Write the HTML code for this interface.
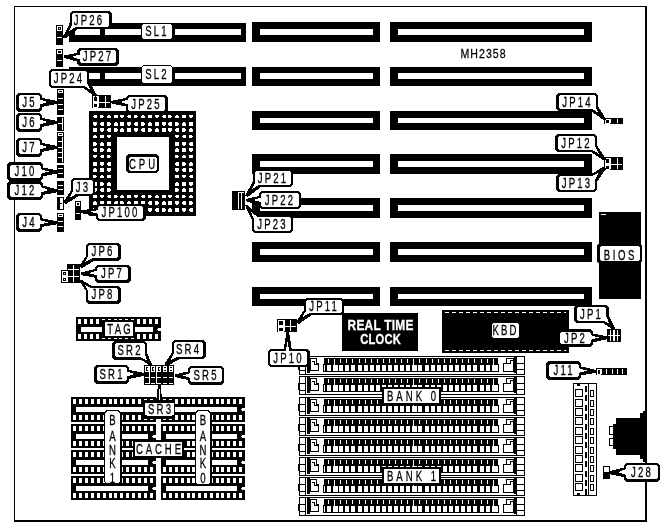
<!DOCTYPE html>
<html><head><meta charset="utf-8"><title>MH2358</title>
<style>
html,body{margin:0;padding:0;background:#fff;}
svg{display:block;}
text{font-family:"Liberation Sans",sans-serif;}
</style></head>
<body>
<svg style="will-change:transform" width="668" height="527" viewBox="0 0 668 527">
<rect x="0" y="0" width="668" height="527" fill="#fff"/>
<g shape-rendering="crispEdges">
<rect x="14" y="6" width="633" height="1" fill="#000"/>
<rect x="14" y="520" width="633" height="2" fill="#000"/>
<rect x="14" y="6" width="1" height="516" fill="#000"/>
<rect x="645" y="6" width="2" height="516" fill="#000"/>
<rect x="252" y="22" width="128" height="20" fill="#000"/>
<rect x="260" y="29" width="113" height="6" fill="#fff"/>
<rect x="390" y="22" width="202" height="20" fill="#000"/>
<rect x="398" y="29" width="186" height="6" fill="#fff"/>
<rect x="252" y="67" width="128" height="19" fill="#000"/>
<rect x="260" y="73" width="113" height="6" fill="#fff"/>
<rect x="390" y="67" width="202" height="19" fill="#000"/>
<rect x="398" y="73" width="186" height="6" fill="#fff"/>
<rect x="252" y="111" width="128" height="19" fill="#000"/>
<rect x="260" y="118" width="113" height="5" fill="#fff"/>
<rect x="390" y="111" width="202" height="19" fill="#000"/>
<rect x="398" y="118" width="186" height="5" fill="#fff"/>
<rect x="252" y="154" width="128" height="20" fill="#000"/>
<rect x="260" y="161" width="113" height="6" fill="#fff"/>
<rect x="390" y="154" width="202" height="20" fill="#000"/>
<rect x="398" y="161" width="186" height="6" fill="#fff"/>
<rect x="252" y="198" width="128" height="20" fill="#000"/>
<rect x="260" y="205" width="113" height="6" fill="#fff"/>
<rect x="390" y="198" width="202" height="20" fill="#000"/>
<rect x="398" y="205" width="186" height="6" fill="#fff"/>
<rect x="252" y="242" width="128" height="20" fill="#000"/>
<rect x="260" y="249" width="113" height="6" fill="#fff"/>
<rect x="390" y="242" width="202" height="20" fill="#000"/>
<rect x="398" y="249" width="186" height="6" fill="#fff"/>
<rect x="252" y="287" width="128" height="19" fill="#000"/>
<rect x="260" y="294" width="113" height="5" fill="#fff"/>
<rect x="390" y="287" width="202" height="19" fill="#000"/>
<rect x="398" y="294" width="186" height="5" fill="#fff"/>
<rect x="69" y="23" width="177" height="19" fill="#000"/>
<rect x="75" y="29" width="166" height="6" fill="#fff"/>
<rect x="100" y="29" width="5" height="6" fill="#000"/>
<rect x="141" y="29" width="34" height="6" fill="#000"/>
<rect x="69" y="67" width="177" height="19" fill="#000"/>
<rect x="75" y="73" width="166" height="6" fill="#fff"/>
<rect x="100" y="73" width="5" height="6" fill="#000"/>
<rect x="141" y="73" width="34" height="6" fill="#000"/>
<rect x="89" y="111" width="107" height="105" fill="#000"/>
<rect x="117" y="137" width="52" height="53" fill="#fff"/>
<rect x="93" y="115" width="4" height="3" fill="#fff"/>
<rect x="93" y="115" width="1" height="1" fill="#000"/>
<rect x="93" y="117" width="1" height="1" fill="#000"/>
<rect x="100" y="115" width="4" height="3" fill="#fff"/>
<rect x="103" y="115" width="1" height="1" fill="#000"/>
<rect x="103" y="117" width="1" height="1" fill="#000"/>
<rect x="107" y="115" width="4" height="3" fill="#fff"/>
<rect x="110" y="115" width="1" height="1" fill="#000"/>
<rect x="107" y="115" width="1" height="1" fill="#000"/>
<rect x="114" y="115" width="4" height="3" fill="#fff"/>
<rect x="120" y="115" width="4" height="3" fill="#fff"/>
<rect x="120" y="117" width="1" height="1" fill="#000"/>
<rect x="123" y="117" width="1" height="1" fill="#000"/>
<rect x="127" y="115" width="4" height="3" fill="#fff"/>
<rect x="127" y="115" width="1" height="1" fill="#000"/>
<rect x="127" y="117" width="1" height="1" fill="#000"/>
<rect x="134" y="115" width="4" height="3" fill="#fff"/>
<rect x="137" y="115" width="1" height="1" fill="#000"/>
<rect x="137" y="117" width="1" height="1" fill="#000"/>
<rect x="141" y="115" width="4" height="3" fill="#fff"/>
<rect x="144" y="115" width="1" height="1" fill="#000"/>
<rect x="141" y="115" width="1" height="1" fill="#000"/>
<rect x="148" y="115" width="4" height="3" fill="#fff"/>
<rect x="155" y="115" width="4" height="3" fill="#fff"/>
<rect x="155" y="117" width="1" height="1" fill="#000"/>
<rect x="158" y="117" width="1" height="1" fill="#000"/>
<rect x="162" y="115" width="4" height="3" fill="#fff"/>
<rect x="162" y="115" width="1" height="1" fill="#000"/>
<rect x="162" y="117" width="1" height="1" fill="#000"/>
<rect x="168" y="115" width="4" height="3" fill="#fff"/>
<rect x="171" y="115" width="1" height="1" fill="#000"/>
<rect x="171" y="117" width="1" height="1" fill="#000"/>
<rect x="175" y="115" width="4" height="3" fill="#fff"/>
<rect x="178" y="115" width="1" height="1" fill="#000"/>
<rect x="175" y="115" width="1" height="1" fill="#000"/>
<rect x="182" y="115" width="4" height="3" fill="#fff"/>
<rect x="189" y="115" width="4" height="3" fill="#fff"/>
<rect x="189" y="117" width="1" height="1" fill="#000"/>
<rect x="192" y="117" width="1" height="1" fill="#000"/>
<rect x="93" y="122" width="4" height="4" fill="#fff"/>
<rect x="93" y="125" width="1" height="1" fill="#000"/>
<rect x="96" y="125" width="1" height="1" fill="#000"/>
<rect x="100" y="122" width="4" height="4" fill="#fff"/>
<rect x="100" y="122" width="1" height="1" fill="#000"/>
<rect x="100" y="125" width="1" height="1" fill="#000"/>
<rect x="107" y="122" width="4" height="4" fill="#fff"/>
<rect x="110" y="122" width="1" height="1" fill="#000"/>
<rect x="110" y="125" width="1" height="1" fill="#000"/>
<rect x="114" y="122" width="4" height="4" fill="#fff"/>
<rect x="117" y="122" width="1" height="1" fill="#000"/>
<rect x="114" y="122" width="1" height="1" fill="#000"/>
<rect x="120" y="122" width="4" height="4" fill="#fff"/>
<rect x="127" y="122" width="4" height="4" fill="#fff"/>
<rect x="127" y="125" width="1" height="1" fill="#000"/>
<rect x="130" y="125" width="1" height="1" fill="#000"/>
<rect x="134" y="122" width="4" height="4" fill="#fff"/>
<rect x="134" y="122" width="1" height="1" fill="#000"/>
<rect x="134" y="125" width="1" height="1" fill="#000"/>
<rect x="141" y="122" width="4" height="4" fill="#fff"/>
<rect x="144" y="122" width="1" height="1" fill="#000"/>
<rect x="144" y="125" width="1" height="1" fill="#000"/>
<rect x="148" y="122" width="4" height="4" fill="#fff"/>
<rect x="151" y="122" width="1" height="1" fill="#000"/>
<rect x="148" y="122" width="1" height="1" fill="#000"/>
<rect x="155" y="122" width="4" height="4" fill="#fff"/>
<rect x="162" y="122" width="4" height="4" fill="#fff"/>
<rect x="162" y="125" width="1" height="1" fill="#000"/>
<rect x="165" y="125" width="1" height="1" fill="#000"/>
<rect x="168" y="122" width="4" height="4" fill="#fff"/>
<rect x="168" y="122" width="1" height="1" fill="#000"/>
<rect x="168" y="125" width="1" height="1" fill="#000"/>
<rect x="175" y="122" width="4" height="4" fill="#fff"/>
<rect x="178" y="122" width="1" height="1" fill="#000"/>
<rect x="178" y="125" width="1" height="1" fill="#000"/>
<rect x="182" y="122" width="4" height="4" fill="#fff"/>
<rect x="185" y="122" width="1" height="1" fill="#000"/>
<rect x="182" y="122" width="1" height="1" fill="#000"/>
<rect x="189" y="122" width="4" height="4" fill="#fff"/>
<rect x="93" y="128" width="4" height="4" fill="#fff"/>
<rect x="100" y="128" width="4" height="4" fill="#fff"/>
<rect x="100" y="131" width="1" height="1" fill="#000"/>
<rect x="103" y="131" width="1" height="1" fill="#000"/>
<rect x="107" y="128" width="4" height="4" fill="#fff"/>
<rect x="107" y="128" width="1" height="1" fill="#000"/>
<rect x="107" y="131" width="1" height="1" fill="#000"/>
<rect x="114" y="128" width="4" height="4" fill="#fff"/>
<rect x="117" y="128" width="1" height="1" fill="#000"/>
<rect x="117" y="131" width="1" height="1" fill="#000"/>
<rect x="120" y="128" width="4" height="4" fill="#fff"/>
<rect x="123" y="128" width="1" height="1" fill="#000"/>
<rect x="120" y="128" width="1" height="1" fill="#000"/>
<rect x="127" y="128" width="4" height="4" fill="#fff"/>
<rect x="134" y="128" width="4" height="4" fill="#fff"/>
<rect x="134" y="131" width="1" height="1" fill="#000"/>
<rect x="137" y="131" width="1" height="1" fill="#000"/>
<rect x="141" y="128" width="4" height="4" fill="#fff"/>
<rect x="141" y="128" width="1" height="1" fill="#000"/>
<rect x="141" y="131" width="1" height="1" fill="#000"/>
<rect x="148" y="128" width="4" height="4" fill="#fff"/>
<rect x="151" y="128" width="1" height="1" fill="#000"/>
<rect x="151" y="131" width="1" height="1" fill="#000"/>
<rect x="155" y="128" width="4" height="4" fill="#fff"/>
<rect x="158" y="128" width="1" height="1" fill="#000"/>
<rect x="155" y="128" width="1" height="1" fill="#000"/>
<rect x="162" y="128" width="4" height="4" fill="#fff"/>
<rect x="168" y="128" width="4" height="4" fill="#fff"/>
<rect x="168" y="131" width="1" height="1" fill="#000"/>
<rect x="171" y="131" width="1" height="1" fill="#000"/>
<rect x="175" y="128" width="4" height="4" fill="#fff"/>
<rect x="175" y="128" width="1" height="1" fill="#000"/>
<rect x="175" y="131" width="1" height="1" fill="#000"/>
<rect x="182" y="128" width="4" height="4" fill="#fff"/>
<rect x="185" y="128" width="1" height="1" fill="#000"/>
<rect x="185" y="131" width="1" height="1" fill="#000"/>
<rect x="189" y="128" width="4" height="4" fill="#fff"/>
<rect x="192" y="128" width="1" height="1" fill="#000"/>
<rect x="189" y="128" width="1" height="1" fill="#000"/>
<rect x="93" y="135" width="4" height="3" fill="#fff"/>
<rect x="96" y="135" width="1" height="1" fill="#000"/>
<rect x="93" y="135" width="1" height="1" fill="#000"/>
<rect x="100" y="135" width="4" height="3" fill="#fff"/>
<rect x="107" y="135" width="4" height="3" fill="#fff"/>
<rect x="107" y="137" width="1" height="1" fill="#000"/>
<rect x="110" y="137" width="1" height="1" fill="#000"/>
<rect x="175" y="135" width="4" height="3" fill="#fff"/>
<rect x="175" y="137" width="1" height="1" fill="#000"/>
<rect x="178" y="137" width="1" height="1" fill="#000"/>
<rect x="182" y="135" width="4" height="3" fill="#fff"/>
<rect x="182" y="135" width="1" height="1" fill="#000"/>
<rect x="182" y="137" width="1" height="1" fill="#000"/>
<rect x="189" y="135" width="4" height="3" fill="#fff"/>
<rect x="192" y="135" width="1" height="1" fill="#000"/>
<rect x="192" y="137" width="1" height="1" fill="#000"/>
<rect x="93" y="142" width="4" height="4" fill="#fff"/>
<rect x="96" y="142" width="1" height="1" fill="#000"/>
<rect x="96" y="145" width="1" height="1" fill="#000"/>
<rect x="100" y="142" width="4" height="4" fill="#fff"/>
<rect x="103" y="142" width="1" height="1" fill="#000"/>
<rect x="100" y="142" width="1" height="1" fill="#000"/>
<rect x="107" y="142" width="4" height="4" fill="#fff"/>
<rect x="175" y="142" width="4" height="4" fill="#fff"/>
<rect x="182" y="142" width="4" height="4" fill="#fff"/>
<rect x="182" y="145" width="1" height="1" fill="#000"/>
<rect x="185" y="145" width="1" height="1" fill="#000"/>
<rect x="189" y="142" width="4" height="4" fill="#fff"/>
<rect x="189" y="142" width="1" height="1" fill="#000"/>
<rect x="189" y="145" width="1" height="1" fill="#000"/>
<rect x="93" y="148" width="4" height="4" fill="#fff"/>
<rect x="93" y="148" width="1" height="1" fill="#000"/>
<rect x="93" y="151" width="1" height="1" fill="#000"/>
<rect x="100" y="148" width="4" height="4" fill="#fff"/>
<rect x="103" y="148" width="1" height="1" fill="#000"/>
<rect x="103" y="151" width="1" height="1" fill="#000"/>
<rect x="107" y="148" width="4" height="4" fill="#fff"/>
<rect x="110" y="148" width="1" height="1" fill="#000"/>
<rect x="107" y="148" width="1" height="1" fill="#000"/>
<rect x="175" y="148" width="4" height="4" fill="#fff"/>
<rect x="178" y="148" width="1" height="1" fill="#000"/>
<rect x="175" y="148" width="1" height="1" fill="#000"/>
<rect x="182" y="148" width="4" height="4" fill="#fff"/>
<rect x="189" y="148" width="4" height="4" fill="#fff"/>
<rect x="189" y="151" width="1" height="1" fill="#000"/>
<rect x="192" y="151" width="1" height="1" fill="#000"/>
<rect x="93" y="155" width="4" height="3" fill="#fff"/>
<rect x="93" y="157" width="1" height="1" fill="#000"/>
<rect x="96" y="157" width="1" height="1" fill="#000"/>
<rect x="100" y="155" width="4" height="3" fill="#fff"/>
<rect x="100" y="155" width="1" height="1" fill="#000"/>
<rect x="100" y="157" width="1" height="1" fill="#000"/>
<rect x="107" y="155" width="4" height="3" fill="#fff"/>
<rect x="110" y="155" width="1" height="1" fill="#000"/>
<rect x="110" y="157" width="1" height="1" fill="#000"/>
<rect x="175" y="155" width="4" height="3" fill="#fff"/>
<rect x="178" y="155" width="1" height="1" fill="#000"/>
<rect x="178" y="157" width="1" height="1" fill="#000"/>
<rect x="182" y="155" width="4" height="3" fill="#fff"/>
<rect x="185" y="155" width="1" height="1" fill="#000"/>
<rect x="182" y="155" width="1" height="1" fill="#000"/>
<rect x="189" y="155" width="4" height="3" fill="#fff"/>
<rect x="93" y="162" width="4" height="4" fill="#fff"/>
<rect x="100" y="162" width="4" height="4" fill="#fff"/>
<rect x="100" y="165" width="1" height="1" fill="#000"/>
<rect x="103" y="165" width="1" height="1" fill="#000"/>
<rect x="107" y="162" width="4" height="4" fill="#fff"/>
<rect x="107" y="162" width="1" height="1" fill="#000"/>
<rect x="107" y="165" width="1" height="1" fill="#000"/>
<rect x="175" y="162" width="4" height="4" fill="#fff"/>
<rect x="175" y="162" width="1" height="1" fill="#000"/>
<rect x="175" y="165" width="1" height="1" fill="#000"/>
<rect x="182" y="162" width="4" height="4" fill="#fff"/>
<rect x="185" y="162" width="1" height="1" fill="#000"/>
<rect x="185" y="165" width="1" height="1" fill="#000"/>
<rect x="189" y="162" width="4" height="4" fill="#fff"/>
<rect x="192" y="162" width="1" height="1" fill="#000"/>
<rect x="189" y="162" width="1" height="1" fill="#000"/>
<rect x="93" y="168" width="4" height="4" fill="#fff"/>
<rect x="96" y="168" width="1" height="1" fill="#000"/>
<rect x="93" y="168" width="1" height="1" fill="#000"/>
<rect x="100" y="168" width="4" height="4" fill="#fff"/>
<rect x="107" y="168" width="4" height="4" fill="#fff"/>
<rect x="107" y="171" width="1" height="1" fill="#000"/>
<rect x="110" y="171" width="1" height="1" fill="#000"/>
<rect x="175" y="168" width="4" height="4" fill="#fff"/>
<rect x="175" y="171" width="1" height="1" fill="#000"/>
<rect x="178" y="171" width="1" height="1" fill="#000"/>
<rect x="182" y="168" width="4" height="4" fill="#fff"/>
<rect x="182" y="168" width="1" height="1" fill="#000"/>
<rect x="182" y="171" width="1" height="1" fill="#000"/>
<rect x="189" y="168" width="4" height="4" fill="#fff"/>
<rect x="192" y="168" width="1" height="1" fill="#000"/>
<rect x="192" y="171" width="1" height="1" fill="#000"/>
<rect x="93" y="175" width="4" height="3" fill="#fff"/>
<rect x="96" y="175" width="1" height="1" fill="#000"/>
<rect x="96" y="177" width="1" height="1" fill="#000"/>
<rect x="100" y="175" width="4" height="3" fill="#fff"/>
<rect x="103" y="175" width="1" height="1" fill="#000"/>
<rect x="100" y="175" width="1" height="1" fill="#000"/>
<rect x="107" y="175" width="4" height="3" fill="#fff"/>
<rect x="175" y="175" width="4" height="3" fill="#fff"/>
<rect x="182" y="175" width="4" height="3" fill="#fff"/>
<rect x="182" y="177" width="1" height="1" fill="#000"/>
<rect x="185" y="177" width="1" height="1" fill="#000"/>
<rect x="189" y="175" width="4" height="3" fill="#fff"/>
<rect x="189" y="175" width="1" height="1" fill="#000"/>
<rect x="189" y="177" width="1" height="1" fill="#000"/>
<rect x="93" y="182" width="4" height="4" fill="#fff"/>
<rect x="93" y="182" width="1" height="1" fill="#000"/>
<rect x="93" y="185" width="1" height="1" fill="#000"/>
<rect x="100" y="182" width="4" height="4" fill="#fff"/>
<rect x="103" y="182" width="1" height="1" fill="#000"/>
<rect x="103" y="185" width="1" height="1" fill="#000"/>
<rect x="107" y="182" width="4" height="4" fill="#fff"/>
<rect x="110" y="182" width="1" height="1" fill="#000"/>
<rect x="107" y="182" width="1" height="1" fill="#000"/>
<rect x="175" y="182" width="4" height="4" fill="#fff"/>
<rect x="178" y="182" width="1" height="1" fill="#000"/>
<rect x="175" y="182" width="1" height="1" fill="#000"/>
<rect x="182" y="182" width="4" height="4" fill="#fff"/>
<rect x="189" y="182" width="4" height="4" fill="#fff"/>
<rect x="189" y="185" width="1" height="1" fill="#000"/>
<rect x="192" y="185" width="1" height="1" fill="#000"/>
<rect x="93" y="188" width="4" height="4" fill="#fff"/>
<rect x="93" y="191" width="1" height="1" fill="#000"/>
<rect x="96" y="191" width="1" height="1" fill="#000"/>
<rect x="100" y="188" width="4" height="4" fill="#fff"/>
<rect x="100" y="188" width="1" height="1" fill="#000"/>
<rect x="100" y="191" width="1" height="1" fill="#000"/>
<rect x="107" y="188" width="4" height="4" fill="#fff"/>
<rect x="110" y="188" width="1" height="1" fill="#000"/>
<rect x="110" y="191" width="1" height="1" fill="#000"/>
<rect x="175" y="188" width="4" height="4" fill="#fff"/>
<rect x="178" y="188" width="1" height="1" fill="#000"/>
<rect x="178" y="191" width="1" height="1" fill="#000"/>
<rect x="182" y="188" width="4" height="4" fill="#fff"/>
<rect x="185" y="188" width="1" height="1" fill="#000"/>
<rect x="182" y="188" width="1" height="1" fill="#000"/>
<rect x="189" y="188" width="4" height="4" fill="#fff"/>
<rect x="93" y="195" width="4" height="3" fill="#fff"/>
<rect x="100" y="195" width="4" height="3" fill="#fff"/>
<rect x="100" y="197" width="1" height="1" fill="#000"/>
<rect x="103" y="197" width="1" height="1" fill="#000"/>
<rect x="107" y="195" width="4" height="3" fill="#fff"/>
<rect x="107" y="195" width="1" height="1" fill="#000"/>
<rect x="107" y="197" width="1" height="1" fill="#000"/>
<rect x="114" y="195" width="4" height="3" fill="#fff"/>
<rect x="117" y="195" width="1" height="1" fill="#000"/>
<rect x="117" y="197" width="1" height="1" fill="#000"/>
<rect x="120" y="195" width="4" height="3" fill="#fff"/>
<rect x="123" y="195" width="1" height="1" fill="#000"/>
<rect x="120" y="195" width="1" height="1" fill="#000"/>
<rect x="127" y="195" width="4" height="3" fill="#fff"/>
<rect x="134" y="195" width="4" height="3" fill="#fff"/>
<rect x="134" y="197" width="1" height="1" fill="#000"/>
<rect x="137" y="197" width="1" height="1" fill="#000"/>
<rect x="141" y="195" width="4" height="3" fill="#fff"/>
<rect x="141" y="195" width="1" height="1" fill="#000"/>
<rect x="141" y="197" width="1" height="1" fill="#000"/>
<rect x="148" y="195" width="4" height="3" fill="#fff"/>
<rect x="151" y="195" width="1" height="1" fill="#000"/>
<rect x="151" y="197" width="1" height="1" fill="#000"/>
<rect x="155" y="195" width="4" height="3" fill="#fff"/>
<rect x="158" y="195" width="1" height="1" fill="#000"/>
<rect x="155" y="195" width="1" height="1" fill="#000"/>
<rect x="162" y="195" width="4" height="3" fill="#fff"/>
<rect x="168" y="195" width="4" height="3" fill="#fff"/>
<rect x="168" y="197" width="1" height="1" fill="#000"/>
<rect x="171" y="197" width="1" height="1" fill="#000"/>
<rect x="175" y="195" width="4" height="3" fill="#fff"/>
<rect x="175" y="195" width="1" height="1" fill="#000"/>
<rect x="175" y="197" width="1" height="1" fill="#000"/>
<rect x="182" y="195" width="4" height="3" fill="#fff"/>
<rect x="185" y="195" width="1" height="1" fill="#000"/>
<rect x="185" y="197" width="1" height="1" fill="#000"/>
<rect x="189" y="195" width="4" height="3" fill="#fff"/>
<rect x="192" y="195" width="1" height="1" fill="#000"/>
<rect x="189" y="195" width="1" height="1" fill="#000"/>
<rect x="93" y="201" width="4" height="4" fill="#fff"/>
<rect x="96" y="201" width="1" height="1" fill="#000"/>
<rect x="93" y="201" width="1" height="1" fill="#000"/>
<rect x="100" y="201" width="4" height="4" fill="#fff"/>
<rect x="107" y="201" width="4" height="4" fill="#fff"/>
<rect x="107" y="204" width="1" height="1" fill="#000"/>
<rect x="110" y="204" width="1" height="1" fill="#000"/>
<rect x="114" y="201" width="4" height="4" fill="#fff"/>
<rect x="114" y="201" width="1" height="1" fill="#000"/>
<rect x="114" y="204" width="1" height="1" fill="#000"/>
<rect x="120" y="201" width="4" height="4" fill="#fff"/>
<rect x="123" y="201" width="1" height="1" fill="#000"/>
<rect x="123" y="204" width="1" height="1" fill="#000"/>
<rect x="127" y="201" width="4" height="4" fill="#fff"/>
<rect x="130" y="201" width="1" height="1" fill="#000"/>
<rect x="127" y="201" width="1" height="1" fill="#000"/>
<rect x="134" y="201" width="4" height="4" fill="#fff"/>
<rect x="141" y="201" width="4" height="4" fill="#fff"/>
<rect x="141" y="204" width="1" height="1" fill="#000"/>
<rect x="144" y="204" width="1" height="1" fill="#000"/>
<rect x="148" y="201" width="4" height="4" fill="#fff"/>
<rect x="148" y="201" width="1" height="1" fill="#000"/>
<rect x="148" y="204" width="1" height="1" fill="#000"/>
<rect x="155" y="201" width="4" height="4" fill="#fff"/>
<rect x="158" y="201" width="1" height="1" fill="#000"/>
<rect x="158" y="204" width="1" height="1" fill="#000"/>
<rect x="162" y="201" width="4" height="4" fill="#fff"/>
<rect x="165" y="201" width="1" height="1" fill="#000"/>
<rect x="162" y="201" width="1" height="1" fill="#000"/>
<rect x="168" y="201" width="4" height="4" fill="#fff"/>
<rect x="175" y="201" width="4" height="4" fill="#fff"/>
<rect x="175" y="204" width="1" height="1" fill="#000"/>
<rect x="178" y="204" width="1" height="1" fill="#000"/>
<rect x="182" y="201" width="4" height="4" fill="#fff"/>
<rect x="182" y="201" width="1" height="1" fill="#000"/>
<rect x="182" y="204" width="1" height="1" fill="#000"/>
<rect x="189" y="201" width="4" height="4" fill="#fff"/>
<rect x="192" y="201" width="1" height="1" fill="#000"/>
<rect x="192" y="204" width="1" height="1" fill="#000"/>
<rect x="93" y="208" width="4" height="4" fill="#fff"/>
<rect x="96" y="208" width="1" height="1" fill="#000"/>
<rect x="96" y="211" width="1" height="1" fill="#000"/>
<rect x="100" y="208" width="4" height="4" fill="#fff"/>
<rect x="103" y="208" width="1" height="1" fill="#000"/>
<rect x="100" y="208" width="1" height="1" fill="#000"/>
<rect x="107" y="208" width="4" height="4" fill="#fff"/>
<rect x="114" y="208" width="4" height="4" fill="#fff"/>
<rect x="114" y="211" width="1" height="1" fill="#000"/>
<rect x="117" y="211" width="1" height="1" fill="#000"/>
<rect x="120" y="208" width="4" height="4" fill="#fff"/>
<rect x="120" y="208" width="1" height="1" fill="#000"/>
<rect x="120" y="211" width="1" height="1" fill="#000"/>
<rect x="127" y="208" width="4" height="4" fill="#fff"/>
<rect x="130" y="208" width="1" height="1" fill="#000"/>
<rect x="130" y="211" width="1" height="1" fill="#000"/>
<rect x="134" y="208" width="4" height="4" fill="#fff"/>
<rect x="137" y="208" width="1" height="1" fill="#000"/>
<rect x="134" y="208" width="1" height="1" fill="#000"/>
<rect x="141" y="208" width="4" height="4" fill="#fff"/>
<rect x="148" y="208" width="4" height="4" fill="#fff"/>
<rect x="148" y="211" width="1" height="1" fill="#000"/>
<rect x="151" y="211" width="1" height="1" fill="#000"/>
<rect x="155" y="208" width="4" height="4" fill="#fff"/>
<rect x="155" y="208" width="1" height="1" fill="#000"/>
<rect x="155" y="211" width="1" height="1" fill="#000"/>
<rect x="162" y="208" width="4" height="4" fill="#fff"/>
<rect x="165" y="208" width="1" height="1" fill="#000"/>
<rect x="165" y="211" width="1" height="1" fill="#000"/>
<rect x="168" y="208" width="4" height="4" fill="#fff"/>
<rect x="171" y="208" width="1" height="1" fill="#000"/>
<rect x="168" y="208" width="1" height="1" fill="#000"/>
<rect x="175" y="208" width="4" height="4" fill="#fff"/>
<rect x="182" y="208" width="4" height="4" fill="#fff"/>
<rect x="182" y="211" width="1" height="1" fill="#000"/>
<rect x="185" y="211" width="1" height="1" fill="#000"/>
<rect x="189" y="208" width="4" height="4" fill="#fff"/>
<rect x="189" y="208" width="1" height="1" fill="#000"/>
<rect x="189" y="211" width="1" height="1" fill="#000"/>
<rect x="599" y="212" width="42" height="87" fill="#000"/>
<rect x="601" y="214" width="5" height="1" fill="#fff"/>
<rect x="442" y="310" width="127" height="43" fill="#000"/>
<path d="M445 312.5H566 M445 350.5H566" stroke="#fff" stroke-width="1" stroke-dasharray="4 3" fill="none"/>
<rect x="342" y="313" width="76" height="38" fill="#000"/>
<rect x="76" y="317" width="85" height="24" fill="#000"/>
<rect x="78" y="319" width="3" height="5" fill="#fff"/>
<rect x="78" y="334" width="3" height="5" fill="#fff"/>
<rect x="84" y="319" width="3" height="5" fill="#fff"/>
<rect x="84" y="334" width="3" height="5" fill="#fff"/>
<rect x="90" y="319" width="3" height="5" fill="#fff"/>
<rect x="90" y="334" width="3" height="5" fill="#fff"/>
<rect x="96" y="319" width="3" height="5" fill="#fff"/>
<rect x="96" y="334" width="3" height="5" fill="#fff"/>
<rect x="102" y="319" width="3" height="5" fill="#fff"/>
<rect x="102" y="334" width="3" height="5" fill="#fff"/>
<rect x="108" y="319" width="3" height="5" fill="#fff"/>
<rect x="108" y="334" width="3" height="5" fill="#fff"/>
<rect x="114" y="319" width="3" height="5" fill="#fff"/>
<rect x="114" y="334" width="3" height="5" fill="#fff"/>
<rect x="119" y="319" width="3" height="5" fill="#fff"/>
<rect x="119" y="334" width="3" height="5" fill="#fff"/>
<rect x="125" y="319" width="3" height="5" fill="#fff"/>
<rect x="125" y="334" width="3" height="5" fill="#fff"/>
<rect x="131" y="319" width="3" height="5" fill="#fff"/>
<rect x="131" y="334" width="3" height="5" fill="#fff"/>
<rect x="137" y="319" width="3" height="5" fill="#fff"/>
<rect x="137" y="334" width="3" height="5" fill="#fff"/>
<rect x="143" y="319" width="3" height="5" fill="#fff"/>
<rect x="143" y="334" width="3" height="5" fill="#fff"/>
<rect x="149" y="319" width="3" height="5" fill="#fff"/>
<rect x="149" y="334" width="3" height="5" fill="#fff"/>
<rect x="155" y="319" width="3" height="5" fill="#fff"/>
<rect x="155" y="334" width="3" height="5" fill="#fff"/>
<rect x="81" y="327" width="72" height="5" fill="#fff"/>
<rect x="158" y="328" width="3" height="3" fill="#fff"/>
<rect x="157" y="329" width="1" height="1" fill="#fff"/>
<rect x="71" y="397" width="85" height="25" fill="#000"/>
<rect x="73" y="399" width="3" height="5" fill="#fff"/>
<rect x="73" y="415" width="3" height="5" fill="#fff"/>
<rect x="79" y="399" width="3" height="5" fill="#fff"/>
<rect x="79" y="415" width="3" height="5" fill="#fff"/>
<rect x="85" y="399" width="3" height="5" fill="#fff"/>
<rect x="85" y="415" width="3" height="5" fill="#fff"/>
<rect x="91" y="399" width="3" height="5" fill="#fff"/>
<rect x="91" y="415" width="3" height="5" fill="#fff"/>
<rect x="97" y="399" width="3" height="5" fill="#fff"/>
<rect x="97" y="415" width="3" height="5" fill="#fff"/>
<rect x="103" y="399" width="3" height="5" fill="#fff"/>
<rect x="103" y="415" width="3" height="5" fill="#fff"/>
<rect x="109" y="399" width="3" height="5" fill="#fff"/>
<rect x="109" y="415" width="3" height="5" fill="#fff"/>
<rect x="114" y="399" width="3" height="5" fill="#fff"/>
<rect x="114" y="415" width="3" height="5" fill="#fff"/>
<rect x="120" y="399" width="3" height="5" fill="#fff"/>
<rect x="120" y="415" width="3" height="5" fill="#fff"/>
<rect x="126" y="399" width="3" height="5" fill="#fff"/>
<rect x="126" y="415" width="3" height="5" fill="#fff"/>
<rect x="132" y="399" width="3" height="5" fill="#fff"/>
<rect x="132" y="415" width="3" height="5" fill="#fff"/>
<rect x="138" y="399" width="3" height="5" fill="#fff"/>
<rect x="138" y="415" width="3" height="5" fill="#fff"/>
<rect x="144" y="399" width="3" height="5" fill="#fff"/>
<rect x="144" y="415" width="3" height="5" fill="#fff"/>
<rect x="150" y="399" width="3" height="5" fill="#fff"/>
<rect x="150" y="415" width="3" height="5" fill="#fff"/>
<rect x="76" y="407" width="72" height="5" fill="#fff"/>
<rect x="153" y="408" width="3" height="3" fill="#fff"/>
<rect x="152" y="409" width="1" height="1" fill="#fff"/>
<rect x="161" y="397" width="84" height="25" fill="#000"/>
<rect x="163" y="399" width="3" height="5" fill="#fff"/>
<rect x="163" y="415" width="3" height="5" fill="#fff"/>
<rect x="169" y="399" width="3" height="5" fill="#fff"/>
<rect x="169" y="415" width="3" height="5" fill="#fff"/>
<rect x="175" y="399" width="3" height="5" fill="#fff"/>
<rect x="175" y="415" width="3" height="5" fill="#fff"/>
<rect x="181" y="399" width="3" height="5" fill="#fff"/>
<rect x="181" y="415" width="3" height="5" fill="#fff"/>
<rect x="187" y="399" width="3" height="5" fill="#fff"/>
<rect x="187" y="415" width="3" height="5" fill="#fff"/>
<rect x="192" y="399" width="3" height="5" fill="#fff"/>
<rect x="192" y="415" width="3" height="5" fill="#fff"/>
<rect x="198" y="399" width="3" height="5" fill="#fff"/>
<rect x="198" y="415" width="3" height="5" fill="#fff"/>
<rect x="204" y="399" width="3" height="5" fill="#fff"/>
<rect x="204" y="415" width="3" height="5" fill="#fff"/>
<rect x="210" y="399" width="3" height="5" fill="#fff"/>
<rect x="210" y="415" width="3" height="5" fill="#fff"/>
<rect x="216" y="399" width="3" height="5" fill="#fff"/>
<rect x="216" y="415" width="3" height="5" fill="#fff"/>
<rect x="221" y="399" width="3" height="5" fill="#fff"/>
<rect x="221" y="415" width="3" height="5" fill="#fff"/>
<rect x="227" y="399" width="3" height="5" fill="#fff"/>
<rect x="227" y="415" width="3" height="5" fill="#fff"/>
<rect x="233" y="399" width="3" height="5" fill="#fff"/>
<rect x="233" y="415" width="3" height="5" fill="#fff"/>
<rect x="239" y="399" width="3" height="5" fill="#fff"/>
<rect x="239" y="415" width="3" height="5" fill="#fff"/>
<rect x="166" y="407" width="71" height="5" fill="#fff"/>
<rect x="242" y="408" width="3" height="3" fill="#fff"/>
<rect x="241" y="409" width="1" height="1" fill="#fff"/>
<rect x="71" y="424" width="85" height="24" fill="#000"/>
<rect x="73" y="426" width="3" height="5" fill="#fff"/>
<rect x="73" y="441" width="3" height="5" fill="#fff"/>
<rect x="79" y="426" width="3" height="5" fill="#fff"/>
<rect x="79" y="441" width="3" height="5" fill="#fff"/>
<rect x="85" y="426" width="3" height="5" fill="#fff"/>
<rect x="85" y="441" width="3" height="5" fill="#fff"/>
<rect x="91" y="426" width="3" height="5" fill="#fff"/>
<rect x="91" y="441" width="3" height="5" fill="#fff"/>
<rect x="97" y="426" width="3" height="5" fill="#fff"/>
<rect x="97" y="441" width="3" height="5" fill="#fff"/>
<rect x="103" y="426" width="3" height="5" fill="#fff"/>
<rect x="103" y="441" width="3" height="5" fill="#fff"/>
<rect x="109" y="426" width="3" height="5" fill="#fff"/>
<rect x="109" y="441" width="3" height="5" fill="#fff"/>
<rect x="114" y="426" width="3" height="5" fill="#fff"/>
<rect x="114" y="441" width="3" height="5" fill="#fff"/>
<rect x="120" y="426" width="3" height="5" fill="#fff"/>
<rect x="120" y="441" width="3" height="5" fill="#fff"/>
<rect x="126" y="426" width="3" height="5" fill="#fff"/>
<rect x="126" y="441" width="3" height="5" fill="#fff"/>
<rect x="132" y="426" width="3" height="5" fill="#fff"/>
<rect x="132" y="441" width="3" height="5" fill="#fff"/>
<rect x="138" y="426" width="3" height="5" fill="#fff"/>
<rect x="138" y="441" width="3" height="5" fill="#fff"/>
<rect x="144" y="426" width="3" height="5" fill="#fff"/>
<rect x="144" y="441" width="3" height="5" fill="#fff"/>
<rect x="150" y="426" width="3" height="5" fill="#fff"/>
<rect x="150" y="441" width="3" height="5" fill="#fff"/>
<rect x="76" y="434" width="72" height="5" fill="#fff"/>
<rect x="153" y="435" width="3" height="3" fill="#fff"/>
<rect x="152" y="436" width="1" height="1" fill="#fff"/>
<rect x="161" y="424" width="84" height="24" fill="#000"/>
<rect x="163" y="426" width="3" height="5" fill="#fff"/>
<rect x="163" y="441" width="3" height="5" fill="#fff"/>
<rect x="169" y="426" width="3" height="5" fill="#fff"/>
<rect x="169" y="441" width="3" height="5" fill="#fff"/>
<rect x="175" y="426" width="3" height="5" fill="#fff"/>
<rect x="175" y="441" width="3" height="5" fill="#fff"/>
<rect x="181" y="426" width="3" height="5" fill="#fff"/>
<rect x="181" y="441" width="3" height="5" fill="#fff"/>
<rect x="187" y="426" width="3" height="5" fill="#fff"/>
<rect x="187" y="441" width="3" height="5" fill="#fff"/>
<rect x="192" y="426" width="3" height="5" fill="#fff"/>
<rect x="192" y="441" width="3" height="5" fill="#fff"/>
<rect x="198" y="426" width="3" height="5" fill="#fff"/>
<rect x="198" y="441" width="3" height="5" fill="#fff"/>
<rect x="204" y="426" width="3" height="5" fill="#fff"/>
<rect x="204" y="441" width="3" height="5" fill="#fff"/>
<rect x="210" y="426" width="3" height="5" fill="#fff"/>
<rect x="210" y="441" width="3" height="5" fill="#fff"/>
<rect x="216" y="426" width="3" height="5" fill="#fff"/>
<rect x="216" y="441" width="3" height="5" fill="#fff"/>
<rect x="221" y="426" width="3" height="5" fill="#fff"/>
<rect x="221" y="441" width="3" height="5" fill="#fff"/>
<rect x="227" y="426" width="3" height="5" fill="#fff"/>
<rect x="227" y="441" width="3" height="5" fill="#fff"/>
<rect x="233" y="426" width="3" height="5" fill="#fff"/>
<rect x="233" y="441" width="3" height="5" fill="#fff"/>
<rect x="239" y="426" width="3" height="5" fill="#fff"/>
<rect x="239" y="441" width="3" height="5" fill="#fff"/>
<rect x="166" y="434" width="71" height="5" fill="#fff"/>
<rect x="242" y="435" width="3" height="3" fill="#fff"/>
<rect x="241" y="436" width="1" height="1" fill="#fff"/>
<rect x="71" y="450" width="85" height="24" fill="#000"/>
<rect x="73" y="452" width="3" height="5" fill="#fff"/>
<rect x="73" y="467" width="3" height="5" fill="#fff"/>
<rect x="79" y="452" width="3" height="5" fill="#fff"/>
<rect x="79" y="467" width="3" height="5" fill="#fff"/>
<rect x="85" y="452" width="3" height="5" fill="#fff"/>
<rect x="85" y="467" width="3" height="5" fill="#fff"/>
<rect x="91" y="452" width="3" height="5" fill="#fff"/>
<rect x="91" y="467" width="3" height="5" fill="#fff"/>
<rect x="97" y="452" width="3" height="5" fill="#fff"/>
<rect x="97" y="467" width="3" height="5" fill="#fff"/>
<rect x="103" y="452" width="3" height="5" fill="#fff"/>
<rect x="103" y="467" width="3" height="5" fill="#fff"/>
<rect x="109" y="452" width="3" height="5" fill="#fff"/>
<rect x="109" y="467" width="3" height="5" fill="#fff"/>
<rect x="114" y="452" width="3" height="5" fill="#fff"/>
<rect x="114" y="467" width="3" height="5" fill="#fff"/>
<rect x="120" y="452" width="3" height="5" fill="#fff"/>
<rect x="120" y="467" width="3" height="5" fill="#fff"/>
<rect x="126" y="452" width="3" height="5" fill="#fff"/>
<rect x="126" y="467" width="3" height="5" fill="#fff"/>
<rect x="132" y="452" width="3" height="5" fill="#fff"/>
<rect x="132" y="467" width="3" height="5" fill="#fff"/>
<rect x="138" y="452" width="3" height="5" fill="#fff"/>
<rect x="138" y="467" width="3" height="5" fill="#fff"/>
<rect x="144" y="452" width="3" height="5" fill="#fff"/>
<rect x="144" y="467" width="3" height="5" fill="#fff"/>
<rect x="150" y="452" width="3" height="5" fill="#fff"/>
<rect x="150" y="467" width="3" height="5" fill="#fff"/>
<rect x="76" y="460" width="72" height="5" fill="#fff"/>
<rect x="153" y="461" width="3" height="3" fill="#fff"/>
<rect x="152" y="462" width="1" height="1" fill="#fff"/>
<rect x="161" y="450" width="84" height="24" fill="#000"/>
<rect x="163" y="452" width="3" height="5" fill="#fff"/>
<rect x="163" y="467" width="3" height="5" fill="#fff"/>
<rect x="169" y="452" width="3" height="5" fill="#fff"/>
<rect x="169" y="467" width="3" height="5" fill="#fff"/>
<rect x="175" y="452" width="3" height="5" fill="#fff"/>
<rect x="175" y="467" width="3" height="5" fill="#fff"/>
<rect x="181" y="452" width="3" height="5" fill="#fff"/>
<rect x="181" y="467" width="3" height="5" fill="#fff"/>
<rect x="187" y="452" width="3" height="5" fill="#fff"/>
<rect x="187" y="467" width="3" height="5" fill="#fff"/>
<rect x="192" y="452" width="3" height="5" fill="#fff"/>
<rect x="192" y="467" width="3" height="5" fill="#fff"/>
<rect x="198" y="452" width="3" height="5" fill="#fff"/>
<rect x="198" y="467" width="3" height="5" fill="#fff"/>
<rect x="204" y="452" width="3" height="5" fill="#fff"/>
<rect x="204" y="467" width="3" height="5" fill="#fff"/>
<rect x="210" y="452" width="3" height="5" fill="#fff"/>
<rect x="210" y="467" width="3" height="5" fill="#fff"/>
<rect x="216" y="452" width="3" height="5" fill="#fff"/>
<rect x="216" y="467" width="3" height="5" fill="#fff"/>
<rect x="221" y="452" width="3" height="5" fill="#fff"/>
<rect x="221" y="467" width="3" height="5" fill="#fff"/>
<rect x="227" y="452" width="3" height="5" fill="#fff"/>
<rect x="227" y="467" width="3" height="5" fill="#fff"/>
<rect x="233" y="452" width="3" height="5" fill="#fff"/>
<rect x="233" y="467" width="3" height="5" fill="#fff"/>
<rect x="239" y="452" width="3" height="5" fill="#fff"/>
<rect x="239" y="467" width="3" height="5" fill="#fff"/>
<rect x="166" y="460" width="71" height="5" fill="#fff"/>
<rect x="242" y="461" width="3" height="3" fill="#fff"/>
<rect x="241" y="462" width="1" height="1" fill="#fff"/>
<rect x="71" y="476" width="85" height="24" fill="#000"/>
<rect x="73" y="478" width="3" height="5" fill="#fff"/>
<rect x="73" y="493" width="3" height="5" fill="#fff"/>
<rect x="79" y="478" width="3" height="5" fill="#fff"/>
<rect x="79" y="493" width="3" height="5" fill="#fff"/>
<rect x="85" y="478" width="3" height="5" fill="#fff"/>
<rect x="85" y="493" width="3" height="5" fill="#fff"/>
<rect x="91" y="478" width="3" height="5" fill="#fff"/>
<rect x="91" y="493" width="3" height="5" fill="#fff"/>
<rect x="97" y="478" width="3" height="5" fill="#fff"/>
<rect x="97" y="493" width="3" height="5" fill="#fff"/>
<rect x="103" y="478" width="3" height="5" fill="#fff"/>
<rect x="103" y="493" width="3" height="5" fill="#fff"/>
<rect x="109" y="478" width="3" height="5" fill="#fff"/>
<rect x="109" y="493" width="3" height="5" fill="#fff"/>
<rect x="114" y="478" width="3" height="5" fill="#fff"/>
<rect x="114" y="493" width="3" height="5" fill="#fff"/>
<rect x="120" y="478" width="3" height="5" fill="#fff"/>
<rect x="120" y="493" width="3" height="5" fill="#fff"/>
<rect x="126" y="478" width="3" height="5" fill="#fff"/>
<rect x="126" y="493" width="3" height="5" fill="#fff"/>
<rect x="132" y="478" width="3" height="5" fill="#fff"/>
<rect x="132" y="493" width="3" height="5" fill="#fff"/>
<rect x="138" y="478" width="3" height="5" fill="#fff"/>
<rect x="138" y="493" width="3" height="5" fill="#fff"/>
<rect x="144" y="478" width="3" height="5" fill="#fff"/>
<rect x="144" y="493" width="3" height="5" fill="#fff"/>
<rect x="150" y="478" width="3" height="5" fill="#fff"/>
<rect x="150" y="493" width="3" height="5" fill="#fff"/>
<rect x="76" y="486" width="72" height="5" fill="#fff"/>
<rect x="153" y="487" width="3" height="3" fill="#fff"/>
<rect x="152" y="488" width="1" height="1" fill="#fff"/>
<rect x="161" y="476" width="84" height="24" fill="#000"/>
<rect x="163" y="478" width="3" height="5" fill="#fff"/>
<rect x="163" y="493" width="3" height="5" fill="#fff"/>
<rect x="169" y="478" width="3" height="5" fill="#fff"/>
<rect x="169" y="493" width="3" height="5" fill="#fff"/>
<rect x="175" y="478" width="3" height="5" fill="#fff"/>
<rect x="175" y="493" width="3" height="5" fill="#fff"/>
<rect x="181" y="478" width="3" height="5" fill="#fff"/>
<rect x="181" y="493" width="3" height="5" fill="#fff"/>
<rect x="187" y="478" width="3" height="5" fill="#fff"/>
<rect x="187" y="493" width="3" height="5" fill="#fff"/>
<rect x="192" y="478" width="3" height="5" fill="#fff"/>
<rect x="192" y="493" width="3" height="5" fill="#fff"/>
<rect x="198" y="478" width="3" height="5" fill="#fff"/>
<rect x="198" y="493" width="3" height="5" fill="#fff"/>
<rect x="204" y="478" width="3" height="5" fill="#fff"/>
<rect x="204" y="493" width="3" height="5" fill="#fff"/>
<rect x="210" y="478" width="3" height="5" fill="#fff"/>
<rect x="210" y="493" width="3" height="5" fill="#fff"/>
<rect x="216" y="478" width="3" height="5" fill="#fff"/>
<rect x="216" y="493" width="3" height="5" fill="#fff"/>
<rect x="221" y="478" width="3" height="5" fill="#fff"/>
<rect x="221" y="493" width="3" height="5" fill="#fff"/>
<rect x="227" y="478" width="3" height="5" fill="#fff"/>
<rect x="227" y="493" width="3" height="5" fill="#fff"/>
<rect x="233" y="478" width="3" height="5" fill="#fff"/>
<rect x="233" y="493" width="3" height="5" fill="#fff"/>
<rect x="239" y="478" width="3" height="5" fill="#fff"/>
<rect x="239" y="493" width="3" height="5" fill="#fff"/>
<rect x="166" y="486" width="71" height="5" fill="#fff"/>
<rect x="242" y="487" width="3" height="3" fill="#fff"/>
<rect x="241" y="488" width="1" height="1" fill="#fff"/>
<rect x="299" y="356" width="226" height="19" fill="#000"/>
<rect x="300" y="357" width="224" height="17" fill="#fff"/>
<rect x="298" y="363" width="1" height="7" fill="#000"/>
<rect x="299" y="363" width="6" height="1" fill="#000"/>
<rect x="299" y="370" width="6" height="1" fill="#000"/>
<rect x="305" y="357" width="1" height="17" fill="#000"/>
<rect x="307" y="357" width="3" height="16" fill="#000"/>
<path d="M310.5 358.5H316.5V363.5H318.5V370.5H310.5Z M311.5 361.5H314.5V364.5H318" fill="#fff" stroke="#000" stroke-width="1" />
<rect x="516" y="357" width="1" height="17" fill="#000"/>
<rect x="514" y="357" width="2" height="16" fill="#000"/>
<rect x="517" y="363" width="7" height="1" fill="#000"/>
<rect x="517" y="369" width="7" height="1" fill="#000"/>
<path d="M513.5 358.5H506.5V363.5H503.5V371.5H513.5Z M506.5 363.5H510.5V360.5H513" fill="#fff" stroke="#000" stroke-width="1" />
<rect x="324" y="358" width="174" height="7" fill="#000"/>
<rect x="323" y="364" width="176" height="8" fill="#000"/>
<rect x="324" y="365" width="1" height="6" fill="#fff"/>
<rect x="497" y="365" width="1" height="6" fill="#fff"/>
<rect x="328" y="359" width="1" height="4" fill="#fff"/>
<rect x="327" y="365" width="4" height="6" fill="#fff"/>
<rect x="334" y="359" width="1" height="4" fill="#fff"/>
<rect x="333" y="365" width="4" height="6" fill="#fff"/>
<rect x="334" y="363" width="1" height="2" fill="#fff"/>
<rect x="337" y="365" width="1" height="6" fill="#fff"/>
<rect x="340" y="359" width="1" height="4" fill="#fff"/>
<rect x="339" y="365" width="4" height="6" fill="#fff"/>
<rect x="346" y="359" width="1" height="4" fill="#fff"/>
<rect x="345" y="365" width="4" height="6" fill="#fff"/>
<rect x="352" y="359" width="1" height="4" fill="#fff"/>
<rect x="351" y="365" width="4" height="6" fill="#fff"/>
<rect x="359" y="359" width="1" height="4" fill="#fff"/>
<rect x="358" y="365" width="4" height="6" fill="#fff"/>
<rect x="365" y="359" width="1" height="4" fill="#fff"/>
<rect x="364" y="365" width="4" height="6" fill="#fff"/>
<rect x="371" y="359" width="1" height="4" fill="#fff"/>
<rect x="370" y="365" width="4" height="6" fill="#fff"/>
<rect x="377" y="359" width="1" height="4" fill="#fff"/>
<rect x="376" y="365" width="4" height="6" fill="#fff"/>
<rect x="383" y="359" width="1" height="4" fill="#fff"/>
<rect x="382" y="365" width="4" height="6" fill="#fff"/>
<rect x="389" y="359" width="1" height="4" fill="#fff"/>
<rect x="388" y="365" width="4" height="6" fill="#fff"/>
<rect x="395" y="359" width="1" height="4" fill="#fff"/>
<rect x="394" y="365" width="4" height="6" fill="#fff"/>
<rect x="401" y="359" width="1" height="4" fill="#fff"/>
<rect x="400" y="365" width="4" height="6" fill="#fff"/>
<rect x="407" y="359" width="1" height="4" fill="#fff"/>
<rect x="406" y="365" width="4" height="6" fill="#fff"/>
<rect x="413" y="359" width="1" height="4" fill="#fff"/>
<rect x="412" y="365" width="4" height="6" fill="#fff"/>
<rect x="413" y="363" width="1" height="2" fill="#fff"/>
<rect x="416" y="365" width="1" height="6" fill="#fff"/>
<rect x="419" y="359" width="1" height="4" fill="#fff"/>
<rect x="418" y="365" width="4" height="6" fill="#fff"/>
<rect x="426" y="359" width="1" height="4" fill="#fff"/>
<rect x="425" y="365" width="4" height="6" fill="#fff"/>
<rect x="432" y="359" width="1" height="4" fill="#fff"/>
<rect x="431" y="365" width="4" height="6" fill="#fff"/>
<rect x="438" y="359" width="1" height="4" fill="#fff"/>
<rect x="437" y="365" width="4" height="6" fill="#fff"/>
<rect x="444" y="359" width="1" height="4" fill="#fff"/>
<rect x="443" y="365" width="4" height="6" fill="#fff"/>
<rect x="450" y="359" width="1" height="4" fill="#fff"/>
<rect x="449" y="365" width="4" height="6" fill="#fff"/>
<rect x="456" y="359" width="1" height="4" fill="#fff"/>
<rect x="455" y="365" width="4" height="6" fill="#fff"/>
<rect x="462" y="359" width="1" height="4" fill="#fff"/>
<rect x="461" y="365" width="4" height="6" fill="#fff"/>
<rect x="468" y="359" width="1" height="4" fill="#fff"/>
<rect x="467" y="365" width="4" height="6" fill="#fff"/>
<rect x="474" y="359" width="1" height="4" fill="#fff"/>
<rect x="473" y="365" width="4" height="6" fill="#fff"/>
<rect x="481" y="359" width="1" height="4" fill="#fff"/>
<rect x="480" y="365" width="4" height="6" fill="#fff"/>
<rect x="487" y="359" width="1" height="4" fill="#fff"/>
<rect x="486" y="365" width="4" height="6" fill="#fff"/>
<rect x="493" y="359" width="1" height="4" fill="#fff"/>
<rect x="492" y="365" width="4" height="6" fill="#fff"/>
<rect x="493" y="363" width="1" height="2" fill="#fff"/>
<rect x="496" y="365" width="1" height="6" fill="#fff"/>
<rect x="299" y="376" width="226" height="19" fill="#000"/>
<rect x="300" y="377" width="224" height="17" fill="#fff"/>
<rect x="298" y="383" width="1" height="7" fill="#000"/>
<rect x="299" y="383" width="6" height="1" fill="#000"/>
<rect x="299" y="390" width="6" height="1" fill="#000"/>
<rect x="305" y="377" width="1" height="17" fill="#000"/>
<rect x="307" y="377" width="3" height="16" fill="#000"/>
<path d="M310.5 378.5H316.5V383.5H318.5V390.5H310.5Z M311.5 381.5H314.5V384.5H318" fill="#fff" stroke="#000" stroke-width="1" />
<rect x="516" y="377" width="1" height="17" fill="#000"/>
<rect x="514" y="377" width="2" height="16" fill="#000"/>
<rect x="517" y="383" width="7" height="1" fill="#000"/>
<rect x="517" y="389" width="7" height="1" fill="#000"/>
<path d="M513.5 378.5H506.5V383.5H503.5V391.5H513.5Z M506.5 383.5H510.5V380.5H513" fill="#fff" stroke="#000" stroke-width="1" />
<rect x="324" y="378" width="174" height="7" fill="#000"/>
<rect x="323" y="384" width="176" height="8" fill="#000"/>
<rect x="324" y="385" width="1" height="6" fill="#fff"/>
<rect x="497" y="385" width="1" height="6" fill="#fff"/>
<rect x="328" y="379" width="1" height="4" fill="#fff"/>
<rect x="327" y="385" width="4" height="6" fill="#fff"/>
<rect x="334" y="379" width="1" height="4" fill="#fff"/>
<rect x="333" y="385" width="4" height="6" fill="#fff"/>
<rect x="334" y="383" width="1" height="2" fill="#fff"/>
<rect x="337" y="385" width="1" height="6" fill="#fff"/>
<rect x="340" y="379" width="1" height="4" fill="#fff"/>
<rect x="339" y="385" width="4" height="6" fill="#fff"/>
<rect x="346" y="379" width="1" height="4" fill="#fff"/>
<rect x="345" y="385" width="4" height="6" fill="#fff"/>
<rect x="352" y="379" width="1" height="4" fill="#fff"/>
<rect x="351" y="385" width="4" height="6" fill="#fff"/>
<rect x="359" y="379" width="1" height="4" fill="#fff"/>
<rect x="358" y="385" width="4" height="6" fill="#fff"/>
<rect x="365" y="379" width="1" height="4" fill="#fff"/>
<rect x="364" y="385" width="4" height="6" fill="#fff"/>
<rect x="371" y="379" width="1" height="4" fill="#fff"/>
<rect x="370" y="385" width="4" height="6" fill="#fff"/>
<rect x="377" y="379" width="1" height="4" fill="#fff"/>
<rect x="376" y="385" width="4" height="6" fill="#fff"/>
<rect x="383" y="379" width="1" height="4" fill="#fff"/>
<rect x="382" y="385" width="4" height="6" fill="#fff"/>
<rect x="389" y="379" width="1" height="4" fill="#fff"/>
<rect x="388" y="385" width="4" height="6" fill="#fff"/>
<rect x="395" y="379" width="1" height="4" fill="#fff"/>
<rect x="394" y="385" width="4" height="6" fill="#fff"/>
<rect x="401" y="379" width="1" height="4" fill="#fff"/>
<rect x="400" y="385" width="4" height="6" fill="#fff"/>
<rect x="407" y="379" width="1" height="4" fill="#fff"/>
<rect x="406" y="385" width="4" height="6" fill="#fff"/>
<rect x="413" y="379" width="1" height="4" fill="#fff"/>
<rect x="412" y="385" width="4" height="6" fill="#fff"/>
<rect x="413" y="383" width="1" height="2" fill="#fff"/>
<rect x="416" y="385" width="1" height="6" fill="#fff"/>
<rect x="419" y="379" width="1" height="4" fill="#fff"/>
<rect x="418" y="385" width="4" height="6" fill="#fff"/>
<rect x="426" y="379" width="1" height="4" fill="#fff"/>
<rect x="425" y="385" width="4" height="6" fill="#fff"/>
<rect x="432" y="379" width="1" height="4" fill="#fff"/>
<rect x="431" y="385" width="4" height="6" fill="#fff"/>
<rect x="438" y="379" width="1" height="4" fill="#fff"/>
<rect x="437" y="385" width="4" height="6" fill="#fff"/>
<rect x="444" y="379" width="1" height="4" fill="#fff"/>
<rect x="443" y="385" width="4" height="6" fill="#fff"/>
<rect x="450" y="379" width="1" height="4" fill="#fff"/>
<rect x="449" y="385" width="4" height="6" fill="#fff"/>
<rect x="456" y="379" width="1" height="4" fill="#fff"/>
<rect x="455" y="385" width="4" height="6" fill="#fff"/>
<rect x="462" y="379" width="1" height="4" fill="#fff"/>
<rect x="461" y="385" width="4" height="6" fill="#fff"/>
<rect x="468" y="379" width="1" height="4" fill="#fff"/>
<rect x="467" y="385" width="4" height="6" fill="#fff"/>
<rect x="474" y="379" width="1" height="4" fill="#fff"/>
<rect x="473" y="385" width="4" height="6" fill="#fff"/>
<rect x="481" y="379" width="1" height="4" fill="#fff"/>
<rect x="480" y="385" width="4" height="6" fill="#fff"/>
<rect x="487" y="379" width="1" height="4" fill="#fff"/>
<rect x="486" y="385" width="4" height="6" fill="#fff"/>
<rect x="493" y="379" width="1" height="4" fill="#fff"/>
<rect x="492" y="385" width="4" height="6" fill="#fff"/>
<rect x="493" y="383" width="1" height="2" fill="#fff"/>
<rect x="496" y="385" width="1" height="6" fill="#fff"/>
<rect x="299" y="397" width="226" height="19" fill="#000"/>
<rect x="300" y="398" width="224" height="17" fill="#fff"/>
<rect x="298" y="404" width="1" height="7" fill="#000"/>
<rect x="299" y="404" width="6" height="1" fill="#000"/>
<rect x="299" y="411" width="6" height="1" fill="#000"/>
<rect x="305" y="398" width="1" height="17" fill="#000"/>
<rect x="307" y="398" width="3" height="16" fill="#000"/>
<path d="M310.5 399.5H316.5V404.5H318.5V411.5H310.5Z M311.5 402.5H314.5V405.5H318" fill="#fff" stroke="#000" stroke-width="1" />
<rect x="516" y="398" width="1" height="17" fill="#000"/>
<rect x="514" y="398" width="2" height="16" fill="#000"/>
<rect x="517" y="404" width="7" height="1" fill="#000"/>
<rect x="517" y="410" width="7" height="1" fill="#000"/>
<path d="M513.5 399.5H506.5V404.5H503.5V412.5H513.5Z M506.5 404.5H510.5V401.5H513" fill="#fff" stroke="#000" stroke-width="1" />
<rect x="324" y="399" width="174" height="7" fill="#000"/>
<rect x="323" y="405" width="176" height="8" fill="#000"/>
<rect x="324" y="406" width="1" height="6" fill="#fff"/>
<rect x="497" y="406" width="1" height="6" fill="#fff"/>
<rect x="328" y="400" width="1" height="4" fill="#fff"/>
<rect x="327" y="406" width="4" height="6" fill="#fff"/>
<rect x="334" y="400" width="1" height="4" fill="#fff"/>
<rect x="333" y="406" width="4" height="6" fill="#fff"/>
<rect x="334" y="404" width="1" height="2" fill="#fff"/>
<rect x="337" y="406" width="1" height="6" fill="#fff"/>
<rect x="340" y="400" width="1" height="4" fill="#fff"/>
<rect x="339" y="406" width="4" height="6" fill="#fff"/>
<rect x="346" y="400" width="1" height="4" fill="#fff"/>
<rect x="345" y="406" width="4" height="6" fill="#fff"/>
<rect x="352" y="400" width="1" height="4" fill="#fff"/>
<rect x="351" y="406" width="4" height="6" fill="#fff"/>
<rect x="359" y="400" width="1" height="4" fill="#fff"/>
<rect x="358" y="406" width="4" height="6" fill="#fff"/>
<rect x="365" y="400" width="1" height="4" fill="#fff"/>
<rect x="364" y="406" width="4" height="6" fill="#fff"/>
<rect x="371" y="400" width="1" height="4" fill="#fff"/>
<rect x="370" y="406" width="4" height="6" fill="#fff"/>
<rect x="377" y="400" width="1" height="4" fill="#fff"/>
<rect x="376" y="406" width="4" height="6" fill="#fff"/>
<rect x="383" y="400" width="1" height="4" fill="#fff"/>
<rect x="382" y="406" width="4" height="6" fill="#fff"/>
<rect x="389" y="400" width="1" height="4" fill="#fff"/>
<rect x="388" y="406" width="4" height="6" fill="#fff"/>
<rect x="395" y="400" width="1" height="4" fill="#fff"/>
<rect x="394" y="406" width="4" height="6" fill="#fff"/>
<rect x="401" y="400" width="1" height="4" fill="#fff"/>
<rect x="400" y="406" width="4" height="6" fill="#fff"/>
<rect x="407" y="400" width="1" height="4" fill="#fff"/>
<rect x="406" y="406" width="4" height="6" fill="#fff"/>
<rect x="413" y="400" width="1" height="4" fill="#fff"/>
<rect x="412" y="406" width="4" height="6" fill="#fff"/>
<rect x="413" y="404" width="1" height="2" fill="#fff"/>
<rect x="416" y="406" width="1" height="6" fill="#fff"/>
<rect x="419" y="400" width="1" height="4" fill="#fff"/>
<rect x="418" y="406" width="4" height="6" fill="#fff"/>
<rect x="426" y="400" width="1" height="4" fill="#fff"/>
<rect x="425" y="406" width="4" height="6" fill="#fff"/>
<rect x="432" y="400" width="1" height="4" fill="#fff"/>
<rect x="431" y="406" width="4" height="6" fill="#fff"/>
<rect x="438" y="400" width="1" height="4" fill="#fff"/>
<rect x="437" y="406" width="4" height="6" fill="#fff"/>
<rect x="444" y="400" width="1" height="4" fill="#fff"/>
<rect x="443" y="406" width="4" height="6" fill="#fff"/>
<rect x="450" y="400" width="1" height="4" fill="#fff"/>
<rect x="449" y="406" width="4" height="6" fill="#fff"/>
<rect x="456" y="400" width="1" height="4" fill="#fff"/>
<rect x="455" y="406" width="4" height="6" fill="#fff"/>
<rect x="462" y="400" width="1" height="4" fill="#fff"/>
<rect x="461" y="406" width="4" height="6" fill="#fff"/>
<rect x="468" y="400" width="1" height="4" fill="#fff"/>
<rect x="467" y="406" width="4" height="6" fill="#fff"/>
<rect x="474" y="400" width="1" height="4" fill="#fff"/>
<rect x="473" y="406" width="4" height="6" fill="#fff"/>
<rect x="481" y="400" width="1" height="4" fill="#fff"/>
<rect x="480" y="406" width="4" height="6" fill="#fff"/>
<rect x="487" y="400" width="1" height="4" fill="#fff"/>
<rect x="486" y="406" width="4" height="6" fill="#fff"/>
<rect x="493" y="400" width="1" height="4" fill="#fff"/>
<rect x="492" y="406" width="4" height="6" fill="#fff"/>
<rect x="493" y="404" width="1" height="2" fill="#fff"/>
<rect x="496" y="406" width="1" height="6" fill="#fff"/>
<rect x="299" y="417" width="226" height="19" fill="#000"/>
<rect x="300" y="418" width="224" height="17" fill="#fff"/>
<rect x="298" y="424" width="1" height="7" fill="#000"/>
<rect x="299" y="424" width="6" height="1" fill="#000"/>
<rect x="299" y="431" width="6" height="1" fill="#000"/>
<rect x="305" y="418" width="1" height="17" fill="#000"/>
<rect x="307" y="418" width="3" height="16" fill="#000"/>
<path d="M310.5 419.5H316.5V424.5H318.5V431.5H310.5Z M311.5 422.5H314.5V425.5H318" fill="#fff" stroke="#000" stroke-width="1" />
<rect x="516" y="418" width="1" height="17" fill="#000"/>
<rect x="514" y="418" width="2" height="16" fill="#000"/>
<rect x="517" y="424" width="7" height="1" fill="#000"/>
<rect x="517" y="430" width="7" height="1" fill="#000"/>
<path d="M513.5 419.5H506.5V424.5H503.5V432.5H513.5Z M506.5 424.5H510.5V421.5H513" fill="#fff" stroke="#000" stroke-width="1" />
<rect x="324" y="419" width="174" height="7" fill="#000"/>
<rect x="323" y="425" width="176" height="8" fill="#000"/>
<rect x="324" y="426" width="1" height="6" fill="#fff"/>
<rect x="497" y="426" width="1" height="6" fill="#fff"/>
<rect x="328" y="420" width="1" height="4" fill="#fff"/>
<rect x="327" y="426" width="4" height="6" fill="#fff"/>
<rect x="334" y="420" width="1" height="4" fill="#fff"/>
<rect x="333" y="426" width="4" height="6" fill="#fff"/>
<rect x="334" y="424" width="1" height="2" fill="#fff"/>
<rect x="337" y="426" width="1" height="6" fill="#fff"/>
<rect x="340" y="420" width="1" height="4" fill="#fff"/>
<rect x="339" y="426" width="4" height="6" fill="#fff"/>
<rect x="346" y="420" width="1" height="4" fill="#fff"/>
<rect x="345" y="426" width="4" height="6" fill="#fff"/>
<rect x="352" y="420" width="1" height="4" fill="#fff"/>
<rect x="351" y="426" width="4" height="6" fill="#fff"/>
<rect x="359" y="420" width="1" height="4" fill="#fff"/>
<rect x="358" y="426" width="4" height="6" fill="#fff"/>
<rect x="365" y="420" width="1" height="4" fill="#fff"/>
<rect x="364" y="426" width="4" height="6" fill="#fff"/>
<rect x="371" y="420" width="1" height="4" fill="#fff"/>
<rect x="370" y="426" width="4" height="6" fill="#fff"/>
<rect x="377" y="420" width="1" height="4" fill="#fff"/>
<rect x="376" y="426" width="4" height="6" fill="#fff"/>
<rect x="383" y="420" width="1" height="4" fill="#fff"/>
<rect x="382" y="426" width="4" height="6" fill="#fff"/>
<rect x="389" y="420" width="1" height="4" fill="#fff"/>
<rect x="388" y="426" width="4" height="6" fill="#fff"/>
<rect x="395" y="420" width="1" height="4" fill="#fff"/>
<rect x="394" y="426" width="4" height="6" fill="#fff"/>
<rect x="401" y="420" width="1" height="4" fill="#fff"/>
<rect x="400" y="426" width="4" height="6" fill="#fff"/>
<rect x="407" y="420" width="1" height="4" fill="#fff"/>
<rect x="406" y="426" width="4" height="6" fill="#fff"/>
<rect x="413" y="420" width="1" height="4" fill="#fff"/>
<rect x="412" y="426" width="4" height="6" fill="#fff"/>
<rect x="413" y="424" width="1" height="2" fill="#fff"/>
<rect x="416" y="426" width="1" height="6" fill="#fff"/>
<rect x="419" y="420" width="1" height="4" fill="#fff"/>
<rect x="418" y="426" width="4" height="6" fill="#fff"/>
<rect x="426" y="420" width="1" height="4" fill="#fff"/>
<rect x="425" y="426" width="4" height="6" fill="#fff"/>
<rect x="432" y="420" width="1" height="4" fill="#fff"/>
<rect x="431" y="426" width="4" height="6" fill="#fff"/>
<rect x="438" y="420" width="1" height="4" fill="#fff"/>
<rect x="437" y="426" width="4" height="6" fill="#fff"/>
<rect x="444" y="420" width="1" height="4" fill="#fff"/>
<rect x="443" y="426" width="4" height="6" fill="#fff"/>
<rect x="450" y="420" width="1" height="4" fill="#fff"/>
<rect x="449" y="426" width="4" height="6" fill="#fff"/>
<rect x="456" y="420" width="1" height="4" fill="#fff"/>
<rect x="455" y="426" width="4" height="6" fill="#fff"/>
<rect x="462" y="420" width="1" height="4" fill="#fff"/>
<rect x="461" y="426" width="4" height="6" fill="#fff"/>
<rect x="468" y="420" width="1" height="4" fill="#fff"/>
<rect x="467" y="426" width="4" height="6" fill="#fff"/>
<rect x="474" y="420" width="1" height="4" fill="#fff"/>
<rect x="473" y="426" width="4" height="6" fill="#fff"/>
<rect x="481" y="420" width="1" height="4" fill="#fff"/>
<rect x="480" y="426" width="4" height="6" fill="#fff"/>
<rect x="487" y="420" width="1" height="4" fill="#fff"/>
<rect x="486" y="426" width="4" height="6" fill="#fff"/>
<rect x="493" y="420" width="1" height="4" fill="#fff"/>
<rect x="492" y="426" width="4" height="6" fill="#fff"/>
<rect x="493" y="424" width="1" height="2" fill="#fff"/>
<rect x="496" y="426" width="1" height="6" fill="#fff"/>
<rect x="299" y="437" width="226" height="19" fill="#000"/>
<rect x="300" y="438" width="224" height="17" fill="#fff"/>
<rect x="298" y="444" width="1" height="7" fill="#000"/>
<rect x="299" y="444" width="6" height="1" fill="#000"/>
<rect x="299" y="451" width="6" height="1" fill="#000"/>
<rect x="305" y="438" width="1" height="17" fill="#000"/>
<rect x="307" y="438" width="3" height="16" fill="#000"/>
<path d="M310.5 439.5H316.5V444.5H318.5V451.5H310.5Z M311.5 442.5H314.5V445.5H318" fill="#fff" stroke="#000" stroke-width="1" />
<rect x="516" y="438" width="1" height="17" fill="#000"/>
<rect x="514" y="438" width="2" height="16" fill="#000"/>
<rect x="517" y="444" width="7" height="1" fill="#000"/>
<rect x="517" y="450" width="7" height="1" fill="#000"/>
<path d="M513.5 439.5H506.5V444.5H503.5V452.5H513.5Z M506.5 444.5H510.5V441.5H513" fill="#fff" stroke="#000" stroke-width="1" />
<rect x="324" y="439" width="174" height="7" fill="#000"/>
<rect x="323" y="445" width="176" height="8" fill="#000"/>
<rect x="324" y="446" width="1" height="6" fill="#fff"/>
<rect x="497" y="446" width="1" height="6" fill="#fff"/>
<rect x="328" y="440" width="1" height="4" fill="#fff"/>
<rect x="327" y="446" width="4" height="6" fill="#fff"/>
<rect x="334" y="440" width="1" height="4" fill="#fff"/>
<rect x="333" y="446" width="4" height="6" fill="#fff"/>
<rect x="334" y="444" width="1" height="2" fill="#fff"/>
<rect x="337" y="446" width="1" height="6" fill="#fff"/>
<rect x="340" y="440" width="1" height="4" fill="#fff"/>
<rect x="339" y="446" width="4" height="6" fill="#fff"/>
<rect x="346" y="440" width="1" height="4" fill="#fff"/>
<rect x="345" y="446" width="4" height="6" fill="#fff"/>
<rect x="352" y="440" width="1" height="4" fill="#fff"/>
<rect x="351" y="446" width="4" height="6" fill="#fff"/>
<rect x="359" y="440" width="1" height="4" fill="#fff"/>
<rect x="358" y="446" width="4" height="6" fill="#fff"/>
<rect x="365" y="440" width="1" height="4" fill="#fff"/>
<rect x="364" y="446" width="4" height="6" fill="#fff"/>
<rect x="371" y="440" width="1" height="4" fill="#fff"/>
<rect x="370" y="446" width="4" height="6" fill="#fff"/>
<rect x="377" y="440" width="1" height="4" fill="#fff"/>
<rect x="376" y="446" width="4" height="6" fill="#fff"/>
<rect x="383" y="440" width="1" height="4" fill="#fff"/>
<rect x="382" y="446" width="4" height="6" fill="#fff"/>
<rect x="389" y="440" width="1" height="4" fill="#fff"/>
<rect x="388" y="446" width="4" height="6" fill="#fff"/>
<rect x="395" y="440" width="1" height="4" fill="#fff"/>
<rect x="394" y="446" width="4" height="6" fill="#fff"/>
<rect x="401" y="440" width="1" height="4" fill="#fff"/>
<rect x="400" y="446" width="4" height="6" fill="#fff"/>
<rect x="407" y="440" width="1" height="4" fill="#fff"/>
<rect x="406" y="446" width="4" height="6" fill="#fff"/>
<rect x="413" y="440" width="1" height="4" fill="#fff"/>
<rect x="412" y="446" width="4" height="6" fill="#fff"/>
<rect x="413" y="444" width="1" height="2" fill="#fff"/>
<rect x="416" y="446" width="1" height="6" fill="#fff"/>
<rect x="419" y="440" width="1" height="4" fill="#fff"/>
<rect x="418" y="446" width="4" height="6" fill="#fff"/>
<rect x="426" y="440" width="1" height="4" fill="#fff"/>
<rect x="425" y="446" width="4" height="6" fill="#fff"/>
<rect x="432" y="440" width="1" height="4" fill="#fff"/>
<rect x="431" y="446" width="4" height="6" fill="#fff"/>
<rect x="438" y="440" width="1" height="4" fill="#fff"/>
<rect x="437" y="446" width="4" height="6" fill="#fff"/>
<rect x="444" y="440" width="1" height="4" fill="#fff"/>
<rect x="443" y="446" width="4" height="6" fill="#fff"/>
<rect x="450" y="440" width="1" height="4" fill="#fff"/>
<rect x="449" y="446" width="4" height="6" fill="#fff"/>
<rect x="456" y="440" width="1" height="4" fill="#fff"/>
<rect x="455" y="446" width="4" height="6" fill="#fff"/>
<rect x="462" y="440" width="1" height="4" fill="#fff"/>
<rect x="461" y="446" width="4" height="6" fill="#fff"/>
<rect x="468" y="440" width="1" height="4" fill="#fff"/>
<rect x="467" y="446" width="4" height="6" fill="#fff"/>
<rect x="474" y="440" width="1" height="4" fill="#fff"/>
<rect x="473" y="446" width="4" height="6" fill="#fff"/>
<rect x="481" y="440" width="1" height="4" fill="#fff"/>
<rect x="480" y="446" width="4" height="6" fill="#fff"/>
<rect x="487" y="440" width="1" height="4" fill="#fff"/>
<rect x="486" y="446" width="4" height="6" fill="#fff"/>
<rect x="493" y="440" width="1" height="4" fill="#fff"/>
<rect x="492" y="446" width="4" height="6" fill="#fff"/>
<rect x="493" y="444" width="1" height="2" fill="#fff"/>
<rect x="496" y="446" width="1" height="6" fill="#fff"/>
<rect x="299" y="457" width="226" height="19" fill="#000"/>
<rect x="300" y="458" width="224" height="17" fill="#fff"/>
<rect x="298" y="464" width="1" height="7" fill="#000"/>
<rect x="299" y="464" width="6" height="1" fill="#000"/>
<rect x="299" y="471" width="6" height="1" fill="#000"/>
<rect x="305" y="458" width="1" height="17" fill="#000"/>
<rect x="307" y="458" width="3" height="16" fill="#000"/>
<path d="M310.5 459.5H316.5V464.5H318.5V471.5H310.5Z M311.5 462.5H314.5V465.5H318" fill="#fff" stroke="#000" stroke-width="1" />
<rect x="516" y="458" width="1" height="17" fill="#000"/>
<rect x="514" y="458" width="2" height="16" fill="#000"/>
<rect x="517" y="464" width="7" height="1" fill="#000"/>
<rect x="517" y="470" width="7" height="1" fill="#000"/>
<path d="M513.5 459.5H506.5V464.5H503.5V472.5H513.5Z M506.5 464.5H510.5V461.5H513" fill="#fff" stroke="#000" stroke-width="1" />
<rect x="324" y="459" width="174" height="7" fill="#000"/>
<rect x="323" y="465" width="176" height="8" fill="#000"/>
<rect x="324" y="466" width="1" height="6" fill="#fff"/>
<rect x="497" y="466" width="1" height="6" fill="#fff"/>
<rect x="328" y="460" width="1" height="4" fill="#fff"/>
<rect x="327" y="466" width="4" height="6" fill="#fff"/>
<rect x="334" y="460" width="1" height="4" fill="#fff"/>
<rect x="333" y="466" width="4" height="6" fill="#fff"/>
<rect x="334" y="464" width="1" height="2" fill="#fff"/>
<rect x="337" y="466" width="1" height="6" fill="#fff"/>
<rect x="340" y="460" width="1" height="4" fill="#fff"/>
<rect x="339" y="466" width="4" height="6" fill="#fff"/>
<rect x="346" y="460" width="1" height="4" fill="#fff"/>
<rect x="345" y="466" width="4" height="6" fill="#fff"/>
<rect x="352" y="460" width="1" height="4" fill="#fff"/>
<rect x="351" y="466" width="4" height="6" fill="#fff"/>
<rect x="359" y="460" width="1" height="4" fill="#fff"/>
<rect x="358" y="466" width="4" height="6" fill="#fff"/>
<rect x="365" y="460" width="1" height="4" fill="#fff"/>
<rect x="364" y="466" width="4" height="6" fill="#fff"/>
<rect x="371" y="460" width="1" height="4" fill="#fff"/>
<rect x="370" y="466" width="4" height="6" fill="#fff"/>
<rect x="377" y="460" width="1" height="4" fill="#fff"/>
<rect x="376" y="466" width="4" height="6" fill="#fff"/>
<rect x="383" y="460" width="1" height="4" fill="#fff"/>
<rect x="382" y="466" width="4" height="6" fill="#fff"/>
<rect x="389" y="460" width="1" height="4" fill="#fff"/>
<rect x="388" y="466" width="4" height="6" fill="#fff"/>
<rect x="395" y="460" width="1" height="4" fill="#fff"/>
<rect x="394" y="466" width="4" height="6" fill="#fff"/>
<rect x="401" y="460" width="1" height="4" fill="#fff"/>
<rect x="400" y="466" width="4" height="6" fill="#fff"/>
<rect x="407" y="460" width="1" height="4" fill="#fff"/>
<rect x="406" y="466" width="4" height="6" fill="#fff"/>
<rect x="413" y="460" width="1" height="4" fill="#fff"/>
<rect x="412" y="466" width="4" height="6" fill="#fff"/>
<rect x="413" y="464" width="1" height="2" fill="#fff"/>
<rect x="416" y="466" width="1" height="6" fill="#fff"/>
<rect x="419" y="460" width="1" height="4" fill="#fff"/>
<rect x="418" y="466" width="4" height="6" fill="#fff"/>
<rect x="426" y="460" width="1" height="4" fill="#fff"/>
<rect x="425" y="466" width="4" height="6" fill="#fff"/>
<rect x="432" y="460" width="1" height="4" fill="#fff"/>
<rect x="431" y="466" width="4" height="6" fill="#fff"/>
<rect x="438" y="460" width="1" height="4" fill="#fff"/>
<rect x="437" y="466" width="4" height="6" fill="#fff"/>
<rect x="444" y="460" width="1" height="4" fill="#fff"/>
<rect x="443" y="466" width="4" height="6" fill="#fff"/>
<rect x="450" y="460" width="1" height="4" fill="#fff"/>
<rect x="449" y="466" width="4" height="6" fill="#fff"/>
<rect x="456" y="460" width="1" height="4" fill="#fff"/>
<rect x="455" y="466" width="4" height="6" fill="#fff"/>
<rect x="462" y="460" width="1" height="4" fill="#fff"/>
<rect x="461" y="466" width="4" height="6" fill="#fff"/>
<rect x="468" y="460" width="1" height="4" fill="#fff"/>
<rect x="467" y="466" width="4" height="6" fill="#fff"/>
<rect x="474" y="460" width="1" height="4" fill="#fff"/>
<rect x="473" y="466" width="4" height="6" fill="#fff"/>
<rect x="481" y="460" width="1" height="4" fill="#fff"/>
<rect x="480" y="466" width="4" height="6" fill="#fff"/>
<rect x="487" y="460" width="1" height="4" fill="#fff"/>
<rect x="486" y="466" width="4" height="6" fill="#fff"/>
<rect x="493" y="460" width="1" height="4" fill="#fff"/>
<rect x="492" y="466" width="4" height="6" fill="#fff"/>
<rect x="493" y="464" width="1" height="2" fill="#fff"/>
<rect x="496" y="466" width="1" height="6" fill="#fff"/>
<rect x="299" y="477" width="226" height="19" fill="#000"/>
<rect x="300" y="478" width="224" height="17" fill="#fff"/>
<rect x="298" y="484" width="1" height="7" fill="#000"/>
<rect x="299" y="484" width="6" height="1" fill="#000"/>
<rect x="299" y="491" width="6" height="1" fill="#000"/>
<rect x="305" y="478" width="1" height="17" fill="#000"/>
<rect x="307" y="478" width="3" height="16" fill="#000"/>
<path d="M310.5 479.5H316.5V484.5H318.5V491.5H310.5Z M311.5 482.5H314.5V485.5H318" fill="#fff" stroke="#000" stroke-width="1" />
<rect x="516" y="478" width="1" height="17" fill="#000"/>
<rect x="514" y="478" width="2" height="16" fill="#000"/>
<rect x="517" y="484" width="7" height="1" fill="#000"/>
<rect x="517" y="490" width="7" height="1" fill="#000"/>
<path d="M513.5 479.5H506.5V484.5H503.5V492.5H513.5Z M506.5 484.5H510.5V481.5H513" fill="#fff" stroke="#000" stroke-width="1" />
<rect x="324" y="479" width="174" height="7" fill="#000"/>
<rect x="323" y="485" width="176" height="8" fill="#000"/>
<rect x="324" y="486" width="1" height="6" fill="#fff"/>
<rect x="497" y="486" width="1" height="6" fill="#fff"/>
<rect x="328" y="480" width="1" height="4" fill="#fff"/>
<rect x="327" y="486" width="4" height="6" fill="#fff"/>
<rect x="334" y="480" width="1" height="4" fill="#fff"/>
<rect x="333" y="486" width="4" height="6" fill="#fff"/>
<rect x="334" y="484" width="1" height="2" fill="#fff"/>
<rect x="337" y="486" width="1" height="6" fill="#fff"/>
<rect x="340" y="480" width="1" height="4" fill="#fff"/>
<rect x="339" y="486" width="4" height="6" fill="#fff"/>
<rect x="346" y="480" width="1" height="4" fill="#fff"/>
<rect x="345" y="486" width="4" height="6" fill="#fff"/>
<rect x="352" y="480" width="1" height="4" fill="#fff"/>
<rect x="351" y="486" width="4" height="6" fill="#fff"/>
<rect x="359" y="480" width="1" height="4" fill="#fff"/>
<rect x="358" y="486" width="4" height="6" fill="#fff"/>
<rect x="365" y="480" width="1" height="4" fill="#fff"/>
<rect x="364" y="486" width="4" height="6" fill="#fff"/>
<rect x="371" y="480" width="1" height="4" fill="#fff"/>
<rect x="370" y="486" width="4" height="6" fill="#fff"/>
<rect x="377" y="480" width="1" height="4" fill="#fff"/>
<rect x="376" y="486" width="4" height="6" fill="#fff"/>
<rect x="383" y="480" width="1" height="4" fill="#fff"/>
<rect x="382" y="486" width="4" height="6" fill="#fff"/>
<rect x="389" y="480" width="1" height="4" fill="#fff"/>
<rect x="388" y="486" width="4" height="6" fill="#fff"/>
<rect x="395" y="480" width="1" height="4" fill="#fff"/>
<rect x="394" y="486" width="4" height="6" fill="#fff"/>
<rect x="401" y="480" width="1" height="4" fill="#fff"/>
<rect x="400" y="486" width="4" height="6" fill="#fff"/>
<rect x="407" y="480" width="1" height="4" fill="#fff"/>
<rect x="406" y="486" width="4" height="6" fill="#fff"/>
<rect x="413" y="480" width="1" height="4" fill="#fff"/>
<rect x="412" y="486" width="4" height="6" fill="#fff"/>
<rect x="413" y="484" width="1" height="2" fill="#fff"/>
<rect x="416" y="486" width="1" height="6" fill="#fff"/>
<rect x="419" y="480" width="1" height="4" fill="#fff"/>
<rect x="418" y="486" width="4" height="6" fill="#fff"/>
<rect x="426" y="480" width="1" height="4" fill="#fff"/>
<rect x="425" y="486" width="4" height="6" fill="#fff"/>
<rect x="432" y="480" width="1" height="4" fill="#fff"/>
<rect x="431" y="486" width="4" height="6" fill="#fff"/>
<rect x="438" y="480" width="1" height="4" fill="#fff"/>
<rect x="437" y="486" width="4" height="6" fill="#fff"/>
<rect x="444" y="480" width="1" height="4" fill="#fff"/>
<rect x="443" y="486" width="4" height="6" fill="#fff"/>
<rect x="450" y="480" width="1" height="4" fill="#fff"/>
<rect x="449" y="486" width="4" height="6" fill="#fff"/>
<rect x="456" y="480" width="1" height="4" fill="#fff"/>
<rect x="455" y="486" width="4" height="6" fill="#fff"/>
<rect x="462" y="480" width="1" height="4" fill="#fff"/>
<rect x="461" y="486" width="4" height="6" fill="#fff"/>
<rect x="468" y="480" width="1" height="4" fill="#fff"/>
<rect x="467" y="486" width="4" height="6" fill="#fff"/>
<rect x="474" y="480" width="1" height="4" fill="#fff"/>
<rect x="473" y="486" width="4" height="6" fill="#fff"/>
<rect x="481" y="480" width="1" height="4" fill="#fff"/>
<rect x="480" y="486" width="4" height="6" fill="#fff"/>
<rect x="487" y="480" width="1" height="4" fill="#fff"/>
<rect x="486" y="486" width="4" height="6" fill="#fff"/>
<rect x="493" y="480" width="1" height="4" fill="#fff"/>
<rect x="492" y="486" width="4" height="6" fill="#fff"/>
<rect x="493" y="484" width="1" height="2" fill="#fff"/>
<rect x="496" y="486" width="1" height="6" fill="#fff"/>
<rect x="299" y="497" width="226" height="19" fill="#000"/>
<rect x="300" y="498" width="224" height="17" fill="#fff"/>
<rect x="298" y="504" width="1" height="7" fill="#000"/>
<rect x="299" y="504" width="6" height="1" fill="#000"/>
<rect x="299" y="511" width="6" height="1" fill="#000"/>
<rect x="305" y="498" width="1" height="17" fill="#000"/>
<rect x="307" y="498" width="3" height="16" fill="#000"/>
<path d="M310.5 499.5H316.5V504.5H318.5V511.5H310.5Z M311.5 502.5H314.5V505.5H318" fill="#fff" stroke="#000" stroke-width="1" />
<rect x="516" y="498" width="1" height="17" fill="#000"/>
<rect x="514" y="498" width="2" height="16" fill="#000"/>
<rect x="517" y="504" width="7" height="1" fill="#000"/>
<rect x="517" y="510" width="7" height="1" fill="#000"/>
<path d="M513.5 499.5H506.5V504.5H503.5V512.5H513.5Z M506.5 504.5H510.5V501.5H513" fill="#fff" stroke="#000" stroke-width="1" />
<rect x="324" y="499" width="174" height="7" fill="#000"/>
<rect x="323" y="505" width="176" height="8" fill="#000"/>
<rect x="324" y="506" width="1" height="6" fill="#fff"/>
<rect x="497" y="506" width="1" height="6" fill="#fff"/>
<rect x="328" y="500" width="1" height="4" fill="#fff"/>
<rect x="327" y="506" width="4" height="6" fill="#fff"/>
<rect x="334" y="500" width="1" height="4" fill="#fff"/>
<rect x="333" y="506" width="4" height="6" fill="#fff"/>
<rect x="334" y="504" width="1" height="2" fill="#fff"/>
<rect x="337" y="506" width="1" height="6" fill="#fff"/>
<rect x="340" y="500" width="1" height="4" fill="#fff"/>
<rect x="339" y="506" width="4" height="6" fill="#fff"/>
<rect x="346" y="500" width="1" height="4" fill="#fff"/>
<rect x="345" y="506" width="4" height="6" fill="#fff"/>
<rect x="352" y="500" width="1" height="4" fill="#fff"/>
<rect x="351" y="506" width="4" height="6" fill="#fff"/>
<rect x="359" y="500" width="1" height="4" fill="#fff"/>
<rect x="358" y="506" width="4" height="6" fill="#fff"/>
<rect x="365" y="500" width="1" height="4" fill="#fff"/>
<rect x="364" y="506" width="4" height="6" fill="#fff"/>
<rect x="371" y="500" width="1" height="4" fill="#fff"/>
<rect x="370" y="506" width="4" height="6" fill="#fff"/>
<rect x="377" y="500" width="1" height="4" fill="#fff"/>
<rect x="376" y="506" width="4" height="6" fill="#fff"/>
<rect x="383" y="500" width="1" height="4" fill="#fff"/>
<rect x="382" y="506" width="4" height="6" fill="#fff"/>
<rect x="389" y="500" width="1" height="4" fill="#fff"/>
<rect x="388" y="506" width="4" height="6" fill="#fff"/>
<rect x="395" y="500" width="1" height="4" fill="#fff"/>
<rect x="394" y="506" width="4" height="6" fill="#fff"/>
<rect x="401" y="500" width="1" height="4" fill="#fff"/>
<rect x="400" y="506" width="4" height="6" fill="#fff"/>
<rect x="407" y="500" width="1" height="4" fill="#fff"/>
<rect x="406" y="506" width="4" height="6" fill="#fff"/>
<rect x="413" y="500" width="1" height="4" fill="#fff"/>
<rect x="412" y="506" width="4" height="6" fill="#fff"/>
<rect x="413" y="504" width="1" height="2" fill="#fff"/>
<rect x="416" y="506" width="1" height="6" fill="#fff"/>
<rect x="419" y="500" width="1" height="4" fill="#fff"/>
<rect x="418" y="506" width="4" height="6" fill="#fff"/>
<rect x="426" y="500" width="1" height="4" fill="#fff"/>
<rect x="425" y="506" width="4" height="6" fill="#fff"/>
<rect x="432" y="500" width="1" height="4" fill="#fff"/>
<rect x="431" y="506" width="4" height="6" fill="#fff"/>
<rect x="438" y="500" width="1" height="4" fill="#fff"/>
<rect x="437" y="506" width="4" height="6" fill="#fff"/>
<rect x="444" y="500" width="1" height="4" fill="#fff"/>
<rect x="443" y="506" width="4" height="6" fill="#fff"/>
<rect x="450" y="500" width="1" height="4" fill="#fff"/>
<rect x="449" y="506" width="4" height="6" fill="#fff"/>
<rect x="456" y="500" width="1" height="4" fill="#fff"/>
<rect x="455" y="506" width="4" height="6" fill="#fff"/>
<rect x="462" y="500" width="1" height="4" fill="#fff"/>
<rect x="461" y="506" width="4" height="6" fill="#fff"/>
<rect x="468" y="500" width="1" height="4" fill="#fff"/>
<rect x="467" y="506" width="4" height="6" fill="#fff"/>
<rect x="474" y="500" width="1" height="4" fill="#fff"/>
<rect x="473" y="506" width="4" height="6" fill="#fff"/>
<rect x="481" y="500" width="1" height="4" fill="#fff"/>
<rect x="480" y="506" width="4" height="6" fill="#fff"/>
<rect x="487" y="500" width="1" height="4" fill="#fff"/>
<rect x="486" y="506" width="4" height="6" fill="#fff"/>
<rect x="493" y="500" width="1" height="4" fill="#fff"/>
<rect x="492" y="506" width="4" height="6" fill="#fff"/>
<rect x="493" y="504" width="1" height="2" fill="#fff"/>
<rect x="496" y="506" width="1" height="6" fill="#fff"/>
<rect x="573" y="383" width="24" height="113" fill="#000"/>
<rect x="574" y="384" width="22" height="111" fill="#fff"/>
<rect x="575" y="389" width="8" height="8" fill="#000"/>
<rect x="576" y="390" width="6" height="6" fill="#fff"/>
<rect x="590" y="390" width="4" height="7" fill="#000"/>
<rect x="591" y="391" width="2" height="5" fill="#fff"/>
<rect x="575" y="399" width="8" height="8" fill="#000"/>
<rect x="576" y="400" width="6" height="6" fill="#fff"/>
<rect x="590" y="400" width="4" height="7" fill="#000"/>
<rect x="591" y="401" width="2" height="5" fill="#fff"/>
<rect x="575" y="408" width="8" height="8" fill="#000"/>
<rect x="576" y="409" width="6" height="6" fill="#fff"/>
<rect x="590" y="409" width="4" height="7" fill="#000"/>
<rect x="591" y="410" width="2" height="5" fill="#fff"/>
<rect x="575" y="417" width="8" height="8" fill="#000"/>
<rect x="576" y="418" width="6" height="6" fill="#fff"/>
<rect x="590" y="418" width="4" height="7" fill="#000"/>
<rect x="591" y="419" width="2" height="5" fill="#fff"/>
<rect x="575" y="427" width="8" height="8" fill="#000"/>
<rect x="576" y="428" width="6" height="6" fill="#fff"/>
<rect x="590" y="428" width="4" height="7" fill="#000"/>
<rect x="591" y="429" width="2" height="5" fill="#fff"/>
<rect x="575" y="436" width="8" height="8" fill="#000"/>
<rect x="576" y="437" width="6" height="6" fill="#fff"/>
<rect x="590" y="437" width="4" height="7" fill="#000"/>
<rect x="591" y="438" width="2" height="5" fill="#fff"/>
<rect x="575" y="446" width="8" height="8" fill="#000"/>
<rect x="576" y="447" width="6" height="6" fill="#fff"/>
<rect x="590" y="447" width="4" height="7" fill="#000"/>
<rect x="591" y="448" width="2" height="5" fill="#fff"/>
<rect x="575" y="455" width="8" height="8" fill="#000"/>
<rect x="576" y="456" width="6" height="6" fill="#fff"/>
<rect x="590" y="456" width="4" height="7" fill="#000"/>
<rect x="591" y="457" width="2" height="5" fill="#fff"/>
<rect x="575" y="464" width="8" height="8" fill="#000"/>
<rect x="576" y="465" width="6" height="6" fill="#fff"/>
<rect x="590" y="465" width="4" height="7" fill="#000"/>
<rect x="591" y="466" width="2" height="5" fill="#fff"/>
<rect x="575" y="474" width="8" height="8" fill="#000"/>
<rect x="576" y="475" width="6" height="6" fill="#fff"/>
<rect x="590" y="475" width="4" height="7" fill="#000"/>
<rect x="591" y="476" width="2" height="5" fill="#fff"/>
<rect x="575" y="483" width="8" height="8" fill="#000"/>
<rect x="576" y="484" width="6" height="6" fill="#fff"/>
<rect x="590" y="484" width="4" height="7" fill="#000"/>
<rect x="591" y="485" width="2" height="5" fill="#fff"/>
<path d="M585.5 386V495" stroke="#000" stroke-width="2" stroke-dasharray="6 3.4" fill="none"/>
<rect x="588" y="384" width="1" height="111" fill="#000"/>
<rect x="577" y="384" width="3" height="2" fill="#000"/>
<rect x="577" y="493" width="3" height="2" fill="#000"/>
<path d="M616 418H640V413H643V411H646V462H643V459H640V455H616V449H613V424H616Z" fill="#000" stroke="none" stroke-width="1" />
<rect x="609" y="426" width="5" height="9" fill="#000"/>
<rect x="610" y="427" width="3" height="7" fill="#fff"/>
<rect x="609" y="438" width="5" height="8" fill="#000"/>
<rect x="610" y="439" width="3" height="6" fill="#fff"/>
<rect x="56" y="25" width="7" height="20" fill="#000"/>
<rect x="57" y="26" width="5" height="5" fill="#fff"/>
<rect x="58" y="27" width="3" height="3" fill="#000"/>
<rect x="59" y="28" width="1" height="1" fill="#fff"/>
<rect x="57" y="31" width="5" height="1" fill="#000"/>
<rect x="57" y="37" width="5" height="1" fill="#fff"/>
<rect x="56" y="49" width="7" height="18" fill="#000"/>
<rect x="57" y="50" width="5" height="4" fill="#fff"/>
<rect x="58" y="51" width="3" height="2" fill="#000"/>
<rect x="59" y="52" width="1" height="0" fill="#fff"/>
<rect x="57" y="54" width="5" height="1" fill="#000"/>
<rect x="57" y="60" width="5" height="1" fill="#fff"/>
<rect x="57" y="89" width="7" height="26" fill="#000"/>
<rect x="58" y="90" width="5" height="3" fill="#fff"/>
<rect x="59" y="91" width="3" height="1" fill="#000"/>
<rect x="58" y="93" width="5" height="1" fill="#000"/>
<rect x="58" y="98" width="5" height="1" fill="#fff"/>
<rect x="58" y="104" width="5" height="1" fill="#fff"/>
<rect x="58" y="109" width="5" height="1" fill="#fff"/>
<rect x="57" y="117" width="7" height="14" fill="#000"/>
<rect x="58" y="123" width="5" height="1" fill="#fff"/>
<rect x="62" y="118" width="1" height="12" fill="#fff"/>
<rect x="57" y="132" width="7" height="31" fill="#000"/>
<rect x="58" y="133" width="5" height="3" fill="#fff"/>
<rect x="59" y="134" width="3" height="1" fill="#000"/>
<rect x="58" y="136" width="5" height="1" fill="#000"/>
<rect x="58" y="141" width="5" height="1" fill="#fff"/>
<rect x="58" y="147" width="5" height="1" fill="#fff"/>
<rect x="58" y="152" width="5" height="1" fill="#fff"/>
<rect x="58" y="157" width="5" height="1" fill="#fff"/>
<rect x="62" y="137" width="1" height="25" fill="#fff"/>
<rect x="57" y="165" width="7" height="13" fill="#000"/>
<rect x="58" y="168" width="5" height="1" fill="#fff"/>
<rect x="58" y="173" width="5" height="1" fill="#fff"/>
<rect x="57" y="181" width="7" height="14" fill="#000"/>
<rect x="58" y="185" width="5" height="1" fill="#fff"/>
<rect x="58" y="189" width="5" height="1" fill="#fff"/>
<rect x="57" y="197" width="7" height="13" fill="#000"/>
<rect x="58" y="198" width="5" height="11" fill="#fff"/>
<rect x="58" y="198" width="2" height="11" fill="#000"/>
<rect x="60" y="203" width="2" height="1" fill="#000"/>
<rect x="75" y="201" width="6" height="19" fill="#000"/>
<rect x="76" y="202" width="4" height="4" fill="#fff"/>
<rect x="77" y="203" width="2" height="2" fill="#000"/>
<rect x="78" y="204" width="0" height="0" fill="#fff"/>
<rect x="76" y="206" width="4" height="1" fill="#000"/>
<rect x="76" y="213" width="4" height="1" fill="#fff"/>
<rect x="57" y="213" width="7" height="19" fill="#000"/>
<rect x="58" y="214" width="5" height="3" fill="#fff"/>
<rect x="59" y="215" width="3" height="1" fill="#000"/>
<rect x="58" y="217" width="5" height="1" fill="#000"/>
<rect x="58" y="221" width="5" height="1" fill="#fff"/>
<rect x="58" y="226" width="5" height="1" fill="#fff"/>
<rect x="92" y="95" width="19" height="13" fill="#000"/>
<rect x="93" y="96" width="5" height="6" fill="#fff"/>
<rect x="94" y="97" width="3" height="4" fill="#000"/>
<rect x="93" y="103" width="5" height="5" fill="#fff"/>
<rect x="94" y="104" width="3" height="3" fill="#000"/>
<rect x="98" y="96" width="1" height="11" fill="#fff"/>
<rect x="105" y="96" width="1" height="11" fill="#fff"/>
<rect x="93" y="102" width="17" height="1" fill="#fff"/>
<rect x="232" y="191" width="13" height="19" fill="#000"/>
<rect x="238" y="193" width="1" height="16" fill="#fff"/>
<rect x="241" y="193" width="1" height="16" fill="#fff"/>
<rect x="238" y="192" width="6" height="1" fill="#fff"/>
<rect x="604" y="157" width="19" height="13" fill="#000"/>
<rect x="605" y="158" width="5" height="6" fill="#fff"/>
<rect x="606" y="159" width="3" height="4" fill="#000"/>
<rect x="605" y="165" width="5" height="5" fill="#fff"/>
<rect x="606" y="166" width="3" height="3" fill="#000"/>
<rect x="610" y="158" width="1" height="11" fill="#fff"/>
<rect x="617" y="158" width="1" height="11" fill="#fff"/>
<rect x="605" y="164" width="17" height="1" fill="#fff"/>
<rect x="604" y="118" width="19" height="6" fill="#000"/>
<rect x="605" y="119" width="5" height="5" fill="#fff"/>
<rect x="606" y="120" width="3" height="3" fill="#000"/>
<rect x="610" y="119" width="1" height="4" fill="#fff"/>
<rect x="617" y="119" width="1" height="4" fill="#fff"/>
<rect x="277" y="319" width="20" height="13" fill="#000"/>
<rect x="278" y="320" width="6" height="6" fill="#fff"/>
<rect x="279" y="321" width="4" height="4" fill="#000"/>
<rect x="278" y="327" width="6" height="5" fill="#fff"/>
<rect x="279" y="328" width="4" height="3" fill="#000"/>
<rect x="284" y="320" width="1" height="11" fill="#fff"/>
<rect x="290" y="320" width="1" height="11" fill="#fff"/>
<rect x="278" y="326" width="18" height="1" fill="#fff"/>
<rect x="607" y="329" width="14" height="13" fill="#000"/>
<rect x="610" y="330" width="1" height="11" fill="#fff"/>
<rect x="617" y="330" width="1" height="11" fill="#fff"/>
<rect x="613" y="330" width="2" height="11" fill="#fff"/>
<rect x="608" y="335" width="12" height="1" fill="#fff"/>
<rect x="596" y="368" width="31" height="7" fill="#000"/>
<rect x="597" y="369" width="4" height="6" fill="#fff"/>
<rect x="598" y="370" width="2" height="4" fill="#000"/>
<rect x="601" y="369" width="1" height="5" fill="#fff"/>
<rect x="606" y="369" width="1" height="5" fill="#fff"/>
<rect x="612" y="369" width="1" height="5" fill="#fff"/>
<rect x="617" y="369" width="1" height="5" fill="#fff"/>
<rect x="622" y="369" width="1" height="5" fill="#fff"/>
<rect x="603" y="466" width="7" height="13" fill="#000"/>
<rect x="604" y="467" width="5" height="5" fill="#fff"/>
<rect x="67" y="264" width="13" height="7" fill="#000"/>
<rect x="61" y="270" width="19" height="13" fill="#000"/>
<rect x="68" y="269" width="11" height="1" fill="#fff"/>
<rect x="62" y="276" width="17" height="1" fill="#fff"/>
<rect x="73" y="265" width="1" height="17" fill="#fff"/>
<rect x="67" y="271" width="1" height="11" fill="#fff"/>
<rect x="62" y="271" width="5" height="5" fill="#fff"/>
<rect x="63" y="272" width="3" height="3" fill="#000"/>
<rect x="64" y="273" width="1" height="1" fill="#fff"/>
<rect x="62" y="277" width="5" height="5" fill="#fff"/>
<rect x="63" y="278" width="3" height="3" fill="#000"/>
<rect x="64" y="279" width="1" height="1" fill="#fff"/>
<rect x="144" y="365" width="30" height="20" fill="#000"/>
<rect x="145" y="366" width="4" height="6" fill="#fff"/>
<rect x="146" y="367" width="2" height="4" fill="#000"/>
<rect x="146.5" y="368" width="1.0" height="2" fill="#fff"/>
<rect x="145" y="377" width="4" height="1" fill="#fff"/>
<rect x="145" y="383" width="4" height="1" fill="#fff"/>
<rect x="151" y="366" width="4" height="6" fill="#fff"/>
<rect x="152" y="367" width="2" height="4" fill="#000"/>
<rect x="152.5" y="368" width="1.0" height="2" fill="#fff"/>
<rect x="151" y="377" width="4" height="1" fill="#fff"/>
<rect x="151" y="383" width="4" height="1" fill="#fff"/>
<rect x="157" y="366" width="4" height="6" fill="#fff"/>
<rect x="158" y="367" width="2" height="4" fill="#000"/>
<rect x="158.5" y="368" width="1.0" height="2" fill="#fff"/>
<rect x="157" y="377" width="4" height="1" fill="#fff"/>
<rect x="157" y="383" width="4" height="1" fill="#fff"/>
<rect x="163" y="366" width="4" height="6" fill="#fff"/>
<rect x="164" y="367" width="2" height="4" fill="#000"/>
<rect x="164" y="368" width="2" height="2" fill="#fff"/>
<rect x="163" y="377" width="4" height="1" fill="#fff"/>
<rect x="163" y="383" width="4" height="1" fill="#fff"/>
<rect x="169" y="366" width="4" height="6" fill="#fff"/>
<rect x="170" y="367" width="2" height="4" fill="#000"/>
<rect x="170" y="368" width="2" height="2" fill="#fff"/>
<rect x="169" y="377" width="4" height="1" fill="#fff"/>
<rect x="169" y="383" width="4" height="1" fill="#fff"/>
<rect x="149" y="366" width="1" height="18" fill="#fff"/>
<rect x="156" y="366" width="1" height="18" fill="#fff"/>
<path d="M70.2 23.3L62.7 36.8L64.9 38.8L77.4 29.3L75.5 23.7Z" fill="#000" stroke="none" stroke-width="1" />
<path d="M74 11H108Q112 11 112 15V25Q112 29 108 29H74Q70 29 70 25V15Q70 11 74 11Z" fill="#000" stroke="none" stroke-width="1" />
<path d="M74.5 13H106.5Q109 13 109 15.5V24.5Q109 27 106.5 27H74.5Q72 27 72 24.5V15.5Q72 13 74.5 13Z" fill="#fff" stroke="none" stroke-width="1" />
<path d="M73.9 22.5L71.9 24.8L68.7 31.5L75.1 27.2L77.1 24.9Z" fill="#fff" stroke="none" stroke-width="1" />
<text transform="translate(89.09,24.60) scale(0.66,1)" font-size="14.5" text-anchor="middle" fill="#000" font-weight="normal" letter-spacing="3.3" stroke="#000" stroke-width="0.3" >JP26</text>
<path d="M79.0 52.5L64.0 55.4L64.6 58.2L79.6 62.1L82.0 57.1Z" fill="#000" stroke="none" stroke-width="1" />
<path d="M81 48H115Q119 48 119 52V62Q119 66 115 66H81Q77 66 77 62V52Q77 48 81 48Z" fill="#000" stroke="none" stroke-width="1" />
<path d="M82.5 50H113.5Q116 50 116 52.5V60.5Q116 63 113.5 63H82.5Q80 63 80 60.5V52.5Q80 50 82.5 50Z" fill="#fff" stroke="none" stroke-width="1" />
<path d="M82.0 54.8L79.0 54.7L71.8 56.8L79.0 59.3L82.0 59.4Z" fill="#fff" stroke="none" stroke-width="1" />
<text transform="translate(98.09,61.10) scale(0.66,1)" font-size="14.5" text-anchor="middle" fill="#000" font-weight="normal" letter-spacing="3.3" stroke="#000" stroke-width="0.3" >JP27</text>
<path d="M81.3 86.7L95.2 96.7L97.4 95.9L89.3 81.9L83.0 81.8Z" fill="#000" stroke="none" stroke-width="1" />
<path d="M53 69H85Q89 69 89 73V84Q89 88 85 88H53Q49 88 49 84V73Q49 69 53 69Z" fill="#000" stroke="none" stroke-width="1" />
<path d="M53.5 71H84.5Q87 71 87 73.5V83.5Q87 86 84.5 86H53.5Q51 86 51 83.5V73.5Q51 71 53.5 71Z" fill="#fff" stroke="none" stroke-width="1" />
<path d="M80.9 83.0L82.9 85.2L90.3 89.8L87.1 82.8L85.1 80.6Z" fill="#fff" stroke="none" stroke-width="1" />
<text transform="translate(69.09,83.10) scale(0.66,1)" font-size="14.5" text-anchor="middle" fill="#000" font-weight="normal" letter-spacing="3.3" stroke="#000" stroke-width="0.3" >JP24</text>
<path d="M128.0 97.5L111.0 100.9L111.6 103.7L128.6 107.1L131.0 102.0Z" fill="#000" stroke="none" stroke-width="1" />
<path d="M130 95H164Q168 95 168 99V109Q168 113 164 113H130Q126 113 126 109V99Q126 95 130 95Z" fill="#000" stroke="none" stroke-width="1" />
<path d="M130.5 97H162.5Q165 97 165 99.5V108.5Q165 111 162.5 111H130.5Q128 111 128 108.5V99.5Q128 97 130.5 97Z" fill="#fff" stroke="none" stroke-width="1" />
<path d="M131.0 99.7L128.0 99.7L119.8 102.0L128.0 104.3L131.0 104.3Z" fill="#fff" stroke="none" stroke-width="1" />
<text transform="translate(146.59,108.60) scale(0.66,1)" font-size="14.5" text-anchor="middle" fill="#000" font-weight="normal" letter-spacing="3.3" stroke="#000" stroke-width="0.3" >JP25</text>
<path d="M40.0 97.5L57.0 100.9L57.6 103.7L40.6 107.1L37.0 102.0Z" fill="#000" stroke="none" stroke-width="1" />
<path d="M20 93H38Q42 93 42 97V108Q42 112 38 112H20Q16 112 16 108V97Q16 93 20 93Z" fill="#000" stroke="none" stroke-width="1" />
<path d="M21.5 95H37.5Q40 95 40 97.5V106.5Q40 109 37.5 109H21.5Q19 109 19 106.5V97.5Q19 95 21.5 95Z" fill="#fff" stroke="none" stroke-width="1" />
<path d="M37.0 99.7L40.0 99.7L48.2 102.0L40.0 104.3L37.0 104.3Z" fill="#fff" stroke="none" stroke-width="1" />
<text transform="translate(29.59,106.60) scale(0.66,1)" font-size="14.5" text-anchor="middle" fill="#000" font-weight="normal" letter-spacing="3.3" stroke="#000" stroke-width="0.3" >J5</text>
<path d="M40.0 117.5L57.0 120.9L57.6 123.7L40.6 127.1L37.0 122.0Z" fill="#000" stroke="none" stroke-width="1" />
<path d="M20 113H38Q42 113 42 117V128Q42 132 38 132H20Q16 132 16 128V117Q16 113 20 113Z" fill="#000" stroke="none" stroke-width="1" />
<path d="M21.5 115H37.5Q40 115 40 117.5V126.5Q40 129 37.5 129H21.5Q19 129 19 126.5V117.5Q19 115 21.5 115Z" fill="#fff" stroke="none" stroke-width="1" />
<path d="M37.0 119.7L40.0 119.7L48.2 122.0L40.0 124.3L37.0 124.3Z" fill="#fff" stroke="none" stroke-width="1" />
<text transform="translate(29.59,126.60) scale(0.66,1)" font-size="14.5" text-anchor="middle" fill="#000" font-weight="normal" letter-spacing="3.3" stroke="#000" stroke-width="0.3" >J6</text>
<path d="M40.0 142.5L57.0 145.9L57.6 148.7L40.6 152.1L37.0 147.0Z" fill="#000" stroke="none" stroke-width="1" />
<path d="M20 138H38Q42 138 42 142V153Q42 157 38 157H20Q16 157 16 153V142Q16 138 20 138Z" fill="#000" stroke="none" stroke-width="1" />
<path d="M21.5 140H37.5Q40 140 40 142.5V151.5Q40 154 37.5 154H21.5Q19 154 19 151.5V142.5Q19 140 21.5 140Z" fill="#fff" stroke="none" stroke-width="1" />
<path d="M37.0 144.7L40.0 144.7L48.2 147.0L40.0 149.3L37.0 149.3Z" fill="#fff" stroke="none" stroke-width="1" />
<text transform="translate(29.59,151.60) scale(0.66,1)" font-size="14.5" text-anchor="middle" fill="#000" font-weight="normal" letter-spacing="3.3" stroke="#000" stroke-width="0.3" >J7</text>
<path d="M41.0 167.0L57.5 170.4L58.1 173.2L41.6 176.6L38.0 171.5Z" fill="#000" stroke="none" stroke-width="1" />
<path d="M11 162H39Q43 162 43 166V177Q43 181 39 181H11Q7 181 7 177V166Q7 162 11 162Z" fill="#000" stroke="none" stroke-width="1" />
<path d="M12.5 165H38.5Q41 165 41 167.5V175.5Q41 178 38.5 178H12.5Q10 178 10 175.5V167.5Q10 165 12.5 165Z" fill="#fff" stroke="none" stroke-width="1" />
<path d="M38.0 169.2L41.0 169.2L48.9 171.5L41.0 173.8L38.0 173.8Z" fill="#fff" stroke="none" stroke-width="1" />
<text transform="translate(25.59,176.10) scale(0.66,1)" font-size="14.5" text-anchor="middle" fill="#000" font-weight="normal" letter-spacing="3.3" stroke="#000" stroke-width="0.3" >J10</text>
<path d="M41.0 185.0L57.5 189.4L58.1 192.2L41.6 195.1L38.0 189.6Z" fill="#000" stroke="none" stroke-width="1" />
<path d="M11 181H39Q43 181 43 185V196Q43 200 39 200H11Q7 200 7 196V185Q7 181 11 181Z" fill="#000" stroke="none" stroke-width="1" />
<path d="M12.5 184H38.5Q41 184 41 186.5V194.5Q41 197 38.5 197H12.5Q10 197 10 194.5V186.5Q10 184 12.5 184Z" fill="#fff" stroke="none" stroke-width="1" />
<path d="M37.9 187.1L40.9 187.2L48.9 190.1L41.1 192.3L38.1 192.2Z" fill="#fff" stroke="none" stroke-width="1" />
<text transform="translate(25.59,195.10) scale(0.66,1)" font-size="14.5" text-anchor="middle" fill="#000" font-weight="normal" letter-spacing="3.3" stroke="#000" stroke-width="0.3" >J12</text>
<path d="M71.3 190.3L63.2 202.2L65.4 204.4L78.3 196.3L76.7 190.9Z" fill="#000" stroke="none" stroke-width="1" />
<path d="M75 178H91Q95 178 95 182V192Q95 196 91 196H75Q71 196 71 192V182Q71 178 75 178Z" fill="#000" stroke="none" stroke-width="1" />
<path d="M75.5 180H90.5Q93 180 93 182.5V191.5Q93 194 90.5 194H75.5Q73 194 73 191.5V182.5Q73 180 75.5 180Z" fill="#fff" stroke="none" stroke-width="1" />
<path d="M75.0 189.8L72.8 191.9L69.5 197.8L76.2 194.1L78.3 192.1Z" fill="#fff" stroke="none" stroke-width="1" />
<text transform="translate(83.09,191.60) scale(0.66,1)" font-size="14.5" text-anchor="middle" fill="#000" font-weight="normal" letter-spacing="3.3" stroke="#000" stroke-width="0.3" >J3</text>
<path d="M98.0 208.0L81.0 210.4L81.6 213.2L98.6 216.6L101.0 212.1Z" fill="#000" stroke="none" stroke-width="1" />
<path d="M100 204H142Q146 204 146 208V217Q146 221 142 221H100Q96 221 96 217V208Q96 204 100 204Z" fill="#000" stroke="none" stroke-width="1" />
<path d="M100.5 206H140.5Q143 206 143 208.5V216.5Q143 219 140.5 219H100.5Q98 219 98 216.5V208.5Q98 206 100.5 206Z" fill="#fff" stroke="none" stroke-width="1" />
<path d="M101.0 210.3L98.0 210.2L89.8 211.8L98.0 213.8L101.0 213.9Z" fill="#fff" stroke="none" stroke-width="1" />
<text transform="translate(120.59,217.10) scale(0.66,1)" font-size="14.5" text-anchor="middle" fill="#000" font-weight="normal" letter-spacing="3.3" stroke="#000" stroke-width="0.3" >JP100</text>
<path d="M40.0 218.0L57.5 221.4L58.1 224.2L40.6 227.1L37.0 222.2Z" fill="#000" stroke="none" stroke-width="1" />
<path d="M20 213H38Q42 213 42 217V228Q42 232 38 232H20Q16 232 16 228V217Q16 213 20 213Z" fill="#000" stroke="none" stroke-width="1" />
<path d="M21.5 215H37.5Q40 215 40 217.5V226.5Q40 229 37.5 229H21.5Q19 229 19 226.5V217.5Q19 215 21.5 215Z" fill="#fff" stroke="none" stroke-width="1" />
<path d="M37.0 220.2L40.0 220.2L48.4 222.4L40.0 224.3L37.0 224.3Z" fill="#fff" stroke="none" stroke-width="1" />
<text transform="translate(29.59,226.60) scale(0.66,1)" font-size="14.5" text-anchor="middle" fill="#000" font-weight="normal" letter-spacing="3.3" stroke="#000" stroke-width="0.3" >J4</text>
<path d="M86.3 255.3L79.2 266.2L81.4 268.4L93.3 261.3L91.7 255.9Z" fill="#000" stroke="none" stroke-width="1" />
<path d="M90 243H117Q121 243 121 247V257Q121 261 117 261H90Q86 261 86 257V247Q86 243 90 243Z" fill="#000" stroke="none" stroke-width="1" />
<path d="M90.5 245H115.5Q118 245 118 247.5V255.5Q118 258 115.5 258H90.5Q88 258 88 255.5V247.5Q88 245 90.5 245Z" fill="#fff" stroke="none" stroke-width="1" />
<path d="M90.0 254.8L87.8 256.9L84.9 262.3L91.2 259.1L93.4 257.1Z" fill="#fff" stroke="none" stroke-width="1" />
<text transform="translate(103.09,256.10) scale(0.66,1)" font-size="14.5" text-anchor="middle" fill="#000" font-weight="normal" letter-spacing="3.3" stroke="#000" stroke-width="0.3" >JP6</text>
<path d="M97.0 268.5L81.0 272.4L81.6 275.2L97.6 278.1L100.0 272.9Z" fill="#000" stroke="none" stroke-width="1" />
<path d="M99 265H127Q131 265 131 269V279Q131 283 127 283H99Q95 283 95 279V269Q95 265 99 265Z" fill="#000" stroke="none" stroke-width="1" />
<path d="M99.5 267H125.5Q128 267 128 269.5V277.5Q128 280 125.5 280H99.5Q97 280 97 277.5V269.5Q97 267 99.5 267Z" fill="#fff" stroke="none" stroke-width="1" />
<path d="M100.0 270.6L97.0 270.7L89.3 273.2L97.0 275.3L100.0 275.2Z" fill="#fff" stroke="none" stroke-width="1" />
<text transform="translate(112.59,278.10) scale(0.66,1)" font-size="14.5" text-anchor="middle" fill="#000" font-weight="normal" letter-spacing="3.3" stroke="#000" stroke-width="0.3" >JP7</text>
<path d="M86.3 291.7L79.2 280.8L81.4 279.8L93.3 286.9L91.7 291.1Z" fill="#000" stroke="none" stroke-width="1" />
<path d="M90 286H117Q121 286 121 290V300Q121 304 117 304H90Q86 304 86 300V290Q86 286 90 286Z" fill="#000" stroke="none" stroke-width="1" />
<path d="M90.5 288H115.5Q118 288 118 290.5V298.5Q118 301 115.5 301H90.5Q88 301 88 298.5V290.5Q88 288 90.5 288Z" fill="#fff" stroke="none" stroke-width="1" />
<path d="M90.0 292.2L87.8 290.1L84.9 284.7L91.2 287.9L93.4 289.9Z" fill="#fff" stroke="none" stroke-width="1" />
<text transform="translate(103.09,299.10) scale(0.66,1)" font-size="14.5" text-anchor="middle" fill="#000" font-weight="normal" letter-spacing="3.3" stroke="#000" stroke-width="0.3" >JP8</text>
<path d="M139.3 358.7L150.2 365.7L152.4 364.9L147.3 353.9L141.0 353.8Z" fill="#000" stroke="none" stroke-width="1" />
<path d="M116 341H143Q147 341 147 345V356Q147 360 143 360H116Q112 360 112 356V345Q112 341 116 341Z" fill="#000" stroke="none" stroke-width="1" />
<path d="M117.5 343H142.5Q145 343 145 345.5V354.5Q145 357 142.5 357H117.5Q115 357 115 354.5V345.5Q115 343 117.5 343Z" fill="#fff" stroke="none" stroke-width="1" />
<path d="M138.9 355.0L140.9 357.2L146.8 360.3L145.1 354.8L143.1 352.6Z" fill="#fff" stroke="none" stroke-width="1" />
<text transform="translate(130.09,354.60) scale(0.66,1)" font-size="14.5" text-anchor="middle" fill="#000" font-weight="normal" letter-spacing="3.3" stroke="#000" stroke-width="0.3" >SR2</text>
<path d="M172.3 352.3L164.3 364.2L166.3 366.4L179.3 359.3L177.7 353.5Z" fill="#000" stroke="none" stroke-width="1" />
<path d="M176 340H202Q206 340 206 344V355Q206 359 202 359H176Q172 359 172 355V344Q172 340 176 340Z" fill="#000" stroke="none" stroke-width="1" />
<path d="M176.5 342H200.5Q203 342 203 344.5V354.5Q203 357 200.5 357H176.5Q174 357 174 354.5V344.5Q174 342 176.5 342Z" fill="#fff" stroke="none" stroke-width="1" />
<path d="M176.0 351.9L173.8 353.9L170.5 360.1L177.2 357.1L179.4 355.1Z" fill="#fff" stroke="none" stroke-width="1" />
<text transform="translate(188.59,354.10) scale(0.66,1)" font-size="14.5" text-anchor="middle" fill="#000" font-weight="normal" letter-spacing="3.3" stroke="#000" stroke-width="0.3" >SR4</text>
<path d="M127.0 369.5L144.0 372.9L144.6 375.7L127.6 379.1L124.0 374.0Z" fill="#000" stroke="none" stroke-width="1" />
<path d="M98 365H125Q129 365 129 369V380Q129 384 125 384H98Q94 384 94 380V369Q94 365 98 365Z" fill="#000" stroke="none" stroke-width="1" />
<path d="M99.5 367H124.5Q127 367 127 369.5V378.5Q127 381 124.5 381H99.5Q97 381 97 378.5V369.5Q97 367 99.5 367Z" fill="#fff" stroke="none" stroke-width="1" />
<path d="M124.0 371.7L127.0 371.7L135.2 374.0L127.0 376.3L124.0 376.3Z" fill="#fff" stroke="none" stroke-width="1" />
<text transform="translate(112.09,378.60) scale(0.66,1)" font-size="14.5" text-anchor="middle" fill="#000" font-weight="normal" letter-spacing="3.3" stroke="#000" stroke-width="0.3" >SR1</text>
<path d="M190.0 371.0L175.0 374.4L175.6 377.2L190.6 380.6L193.0 375.5Z" fill="#000" stroke="none" stroke-width="1" />
<path d="M192 366H220Q224 366 224 370V381Q224 385 220 385H192Q188 385 188 381V370Q188 366 192 366Z" fill="#000" stroke="none" stroke-width="1" />
<path d="M192.5 368H219.5Q222 368 222 370.5V379.5Q222 382 219.5 382H192.5Q190 382 190 379.5V370.5Q190 368 192.5 368Z" fill="#fff" stroke="none" stroke-width="1" />
<path d="M193.0 373.2L190.0 373.2L182.8 375.5L190.0 377.8L193.0 377.8Z" fill="#fff" stroke="none" stroke-width="1" />
<text transform="translate(206.09,379.60) scale(0.66,1)" font-size="14.5" text-anchor="middle" fill="#000" font-weight="normal" letter-spacing="3.3" stroke="#000" stroke-width="0.3" >SR5</text>
<path d="M253.2 181.3L245.2 195.3L247.4 197.3L260.4 187.3L258.5 181.7Z" fill="#000" stroke="none" stroke-width="1" />
<path d="M257 169H289Q293 169 293 173V183Q293 187 289 187H257Q253 187 253 183V173Q253 169 257 169Z" fill="#000" stroke="none" stroke-width="1" />
<path d="M257.5 171H288.5Q291 171 291 173.5V182.5Q291 185 288.5 185H257.5Q255 185 255 182.5V173.5Q255 171 257.5 171Z" fill="#fff" stroke="none" stroke-width="1" />
<path d="M256.9 180.5L254.9 182.8L251.5 189.8L258.1 185.2L260.1 183.0Z" fill="#fff" stroke="none" stroke-width="1" />
<text transform="translate(273.09,182.60) scale(0.66,1)" font-size="14.5" text-anchor="middle" fill="#000" font-weight="normal" letter-spacing="3.3" stroke="#000" stroke-width="0.3" >JP21</text>
<path d="M261.0 195.5L246.0 198.9L246.6 201.7L261.6 205.1L264.0 200.0Z" fill="#000" stroke="none" stroke-width="1" />
<path d="M263 191H297Q301 191 301 195V205Q301 209 297 209H263Q259 209 259 205V195Q259 191 263 191Z" fill="#000" stroke="none" stroke-width="1" />
<path d="M263.5 193H296.5Q299 193 299 195.5V204.5Q299 207 296.5 207H263.5Q261 207 261 204.5V195.5Q261 193 263.5 193Z" fill="#fff" stroke="none" stroke-width="1" />
<path d="M264.0 197.7L261.0 197.7L253.8 200.0L261.0 202.3L264.0 202.3Z" fill="#fff" stroke="none" stroke-width="1" />
<text transform="translate(280.09,204.60) scale(0.66,1)" font-size="14.5" text-anchor="middle" fill="#000" font-weight="normal" letter-spacing="3.3" stroke="#000" stroke-width="0.3" >JP22</text>
<path d="M252.2 220.6L245.1 205.6L247.5 205.0L259.4 216.0L257.3 220.4Z" fill="#000" stroke="none" stroke-width="1" />
<path d="M256 215H289Q293 215 293 219V229Q293 233 289 233H256Q252 233 252 229V219Q252 215 256 215Z" fill="#000" stroke="none" stroke-width="1" />
<path d="M256.5 217H288.5Q291 217 291 219.5V228.5Q291 231 288.5 231H256.5Q254 231 254 228.5V219.5Q254 217 256.5 217Z" fill="#fff" stroke="none" stroke-width="1" />
<path d="M255.7 221.7L254.0 219.3L250.9 211.8L257.0 216.7L258.8 219.1Z" fill="#fff" stroke="none" stroke-width="1" />
<text transform="translate(272.59,228.60) scale(0.66,1)" font-size="14.5" text-anchor="middle" fill="#000" font-weight="normal" letter-spacing="3.3" stroke="#000" stroke-width="0.3" >JP23</text>
<path d="M304.3 309.3L296.2 322.2L298.4 324.4L311.3 315.3L309.6 309.8Z" fill="#000" stroke="none" stroke-width="1" />
<path d="M308 298H340Q344 298 344 302V311Q344 315 340 315H308Q304 315 304 311V302Q304 298 308 298Z" fill="#000" stroke="none" stroke-width="1" />
<path d="M308.5 300H339.5Q342 300 342 302.5V310.5Q342 313 339.5 313H308.5Q306 313 306 310.5V302.5Q306 300 308.5 300Z" fill="#fff" stroke="none" stroke-width="1" />
<path d="M307.9 308.7L305.9 310.8L302.5 317.3L309.1 313.2L311.2 311.0Z" fill="#fff" stroke="none" stroke-width="1" />
<text transform="translate(324.09,311.10) scale(0.66,1)" font-size="14.5" text-anchor="middle" fill="#000" font-weight="normal" letter-spacing="3.3" stroke="#000" stroke-width="0.3" >JP11</text>
<path d="M283.5 351.0L286.4 332.0L289.2 332.6L292.1 351.6L287.5 354.0Z" fill="#000" stroke="none" stroke-width="1" />
<path d="M272 349H306Q310 349 310 353V363Q310 367 306 367H272Q268 367 268 363V353Q268 349 272 349Z" fill="#000" stroke="none" stroke-width="1" />
<path d="M272.5 351H304.5Q307 351 307 353.5V362.5Q307 365 304.5 365H272.5Q270 365 270 362.5V353.5Q270 351 272.5 351Z" fill="#fff" stroke="none" stroke-width="1" />
<path d="M285.7 354.0L285.7 351.0L287.5 341.9L289.3 351.0L289.3 354.0Z" fill="#fff" stroke="none" stroke-width="1" />
<text transform="translate(288.59,362.60) scale(0.66,1)" font-size="14.5" text-anchor="middle" fill="#000" font-weight="normal" letter-spacing="3.3" stroke="#000" stroke-width="0.3" >JP10</text>
<path d="M589.3 109.7L604.2 120.7L606.4 119.9L597.3 104.9L591.0 104.8Z" fill="#000" stroke="none" stroke-width="1" />
<path d="M560 93H594Q598 93 598 97V107Q598 111 594 111H560Q556 111 556 107V97Q556 93 560 93Z" fill="#000" stroke="none" stroke-width="1" />
<path d="M561.5 95H593.5Q596 95 596 97.5V106.5Q596 109 593.5 109H561.5Q559 109 559 106.5V97.5Q559 95 561.5 95Z" fill="#fff" stroke="none" stroke-width="1" />
<path d="M588.8 106.0L590.9 108.2L598.8 113.2L595.1 105.8L593.1 103.6Z" fill="#fff" stroke="none" stroke-width="1" />
<text transform="translate(577.59,106.60) scale(0.66,1)" font-size="14.5" text-anchor="middle" fill="#000" font-weight="normal" letter-spacing="3.3" stroke="#000" stroke-width="0.3" >JP14</text>
<path d="M589.3 150.7L604.2 160.8L606.4 159.8L597.3 145.9L590.9 145.9Z" fill="#000" stroke="none" stroke-width="1" />
<path d="M559 134H593Q597 134 597 138V148Q597 152 593 152H559Q555 152 555 148V138Q555 134 559 134Z" fill="#000" stroke="none" stroke-width="1" />
<path d="M560.5 136H592.5Q595 136 595 138.5V147.5Q595 150 592.5 150H560.5Q558 150 558 147.5V138.5Q558 136 560.5 136Z" fill="#fff" stroke="none" stroke-width="1" />
<path d="M588.7 147.0L590.8 149.2L598.8 153.8L595.2 146.8L593.0 144.7Z" fill="#fff" stroke="none" stroke-width="1" />
<text transform="translate(576.59,147.60) scale(0.66,1)" font-size="14.5" text-anchor="middle" fill="#000" font-weight="normal" letter-spacing="3.3" stroke="#000" stroke-width="0.3" >JP12</text>
<path d="M589.3 175.3L604.3 166.2L606.3 168.4L597.3 181.3L590.8 180.0Z" fill="#000" stroke="none" stroke-width="1" />
<path d="M560 174H593Q597 174 597 178V188Q597 192 593 192H560Q556 192 556 188V178Q556 174 560 174Z" fill="#000" stroke="none" stroke-width="1" />
<path d="M561.5 176H592.5Q595 176 595 178.5V187.5Q595 190 592.5 190H561.5Q559 190 559 187.5V178.5Q559 176 561.5 176Z" fill="#fff" stroke="none" stroke-width="1" />
<path d="M588.6 178.9L590.8 176.9L598.8 172.7L595.2 179.1L593.0 181.1Z" fill="#fff" stroke="none" stroke-width="1" />
<text transform="translate(577.09,187.60) scale(0.66,1)" font-size="14.5" text-anchor="middle" fill="#000" font-weight="normal" letter-spacing="3.3" stroke="#000" stroke-width="0.3" >JP13</text>
<path d="M601.3 321.7L613.2 329.7L615.4 328.9L609.3 316.9L603.0 316.8Z" fill="#000" stroke="none" stroke-width="1" />
<path d="M578 305H605Q609 305 609 309V319Q609 323 605 323H578Q574 323 574 319V309Q574 305 578 305Z" fill="#000" stroke="none" stroke-width="1" />
<path d="M579.5 307H603.5Q606 307 606 309.5V318.5Q606 321 603.5 321H579.5Q577 321 577 318.5V309.5Q577 307 579.5 307Z" fill="#fff" stroke="none" stroke-width="1" />
<path d="M600.9 318.0L602.9 320.2L609.3 323.8L607.1 317.8L605.1 315.6Z" fill="#fff" stroke="none" stroke-width="1" />
<text transform="translate(591.59,318.60) scale(0.66,1)" font-size="14.5" text-anchor="middle" fill="#000" font-weight="normal" letter-spacing="3.3" stroke="#000" stroke-width="0.3" >JP1</text>
<path d="M591.0 333.0L607.0 336.4L607.6 339.2L591.6 342.6L588.0 337.5Z" fill="#000" stroke="none" stroke-width="1" />
<path d="M562 329H589Q593 329 593 333V343Q593 347 589 347H562Q558 347 558 343V333Q558 329 562 329Z" fill="#000" stroke="none" stroke-width="1" />
<path d="M562.5 332H588.5Q591 332 591 334.5V341.5Q591 344 588.5 344H562.5Q560 344 560 341.5V334.5Q560 332 562.5 332Z" fill="#fff" stroke="none" stroke-width="1" />
<path d="M588.0 335.2L591.0 335.2L598.7 337.5L591.0 339.8L588.0 339.8Z" fill="#fff" stroke="none" stroke-width="1" />
<text transform="translate(575.59,342.60) scale(0.66,1)" font-size="14.5" text-anchor="middle" fill="#000" font-weight="normal" letter-spacing="3.3" stroke="#000" stroke-width="0.3" >JP2</text>
<path d="M579.0 366.0L596.0 369.9L596.6 372.7L579.6 375.6L576.0 370.4Z" fill="#000" stroke="none" stroke-width="1" />
<path d="M550 361H577Q581 361 581 365V376Q581 380 577 380H550Q546 380 546 376V365Q546 361 550 361Z" fill="#000" stroke="none" stroke-width="1" />
<path d="M551.5 364H576.5Q579 364 579 366.5V374.5Q579 377 576.5 377H551.5Q549 377 549 374.5V366.5Q549 364 551.5 364Z" fill="#fff" stroke="none" stroke-width="1" />
<path d="M576.0 368.1L579.0 368.2L587.2 370.7L579.0 372.8L576.0 372.7Z" fill="#fff" stroke="none" stroke-width="1" />
<text transform="translate(564.09,375.10) scale(0.66,1)" font-size="14.5" text-anchor="middle" fill="#000" font-weight="normal" letter-spacing="3.3" stroke="#000" stroke-width="0.3" >J11</text>
<path d="M626.0 467.0L609.0 471.4L609.6 474.2L626.6 477.6L629.0 471.9Z" fill="#000" stroke="none" stroke-width="1" />
<path d="M628 463H656Q660 463 660 467V478Q660 482 656 482H628Q624 482 624 478V467Q624 463 628 463Z" fill="#000" stroke="none" stroke-width="1" />
<path d="M628.5 465H655.5Q658 465 658 467.5V476.5Q658 479 655.5 479H628.5Q626 479 626 476.5V467.5Q626 465 628.5 465Z" fill="#fff" stroke="none" stroke-width="1" />
<path d="M629.0 469.1L626.0 469.2L617.8 472.2L626.0 474.8L629.0 474.7Z" fill="#fff" stroke="none" stroke-width="1" />
<text transform="translate(642.09,476.60) scale(0.66,1)" font-size="14.5" text-anchor="middle" fill="#000" font-weight="normal" letter-spacing="3.3" stroke="#000" stroke-width="0.3" >J28</text>
<path d="M156 403L158 385H161L162 403Z" fill="#000" stroke="none" stroke-width="1" />
<rect x="158.5" y="389" width="1.5" height="13" fill="#fff"/>
<rect x="143" y="400" width="32" height="19" fill="#000"/>
<rect x="145" y="402" width="29" height="14" fill="#fff"/>
<path d="M146 400H172Q175 400 175 403V415Q175 418 172 418H146Q143 418 143 415V403Q143 400 146 400Z" fill="#000" stroke="none" stroke-width="1" />
<path d="M147 402.5H172Q174 402.5 174 404.5V413.5Q174 415.5 172 415.5H147Q145 415.5 145 413.5V404.5Q145 402.5 147 402.5Z" fill="#fff" stroke="none" stroke-width="1" />
<text transform="translate(160.59,414.00) scale(0.66,1)" font-size="14.5" text-anchor="middle" fill="#000" font-weight="normal" letter-spacing="3.3" stroke="#000" stroke-width="0.3" >SR3</text>
<path d="M600 244H639Q642 244 642 247V260Q642 263 639 263H600Q597 263 597 260V247Q597 244 600 244Z" fill="#000" stroke="none" stroke-width="1" />
<path d="M602.5 246H637.5Q640 246 640 248.5V258.5Q640 261 637.5 261H602.5Q600 261 600 258.5V248.5Q600 246 602.5 246Z" fill="#fff" stroke="none" stroke-width="1" />
<text transform="translate(620.29,260.10) scale(0.66,1)" font-size="14.5" text-anchor="middle" fill="#000" font-weight="normal" letter-spacing="3.9" stroke="#000" stroke-width="0.3" >BIOS</text>
<path d="M145 23H169Q173 23 173 27V36Q173 40 169 40H145Q141 40 141 36V27Q141 23 145 23Z" fill="#000" stroke="none" stroke-width="1" />
<path d="M144.5 24H169.5Q172 24 172 26.5V36.5Q172 39 169.5 39H144.5Q142 39 142 36.5V26.5Q142 24 144.5 24Z" fill="#fff" stroke="none" stroke-width="1" />
<text transform="translate(157.09,36.10) scale(0.66,1)" font-size="14.5" text-anchor="middle" fill="#000" font-weight="normal" letter-spacing="3.3" stroke="#000" stroke-width="0.3" >SL1</text>
<path d="M145 65H169Q173 65 173 69V80Q173 84 169 84H145Q141 84 141 80V69Q141 65 145 65Z" fill="#000" stroke="none" stroke-width="1" />
<path d="M144.5 66H169.5Q172 66 172 68.5V80.5Q172 83 169.5 83H144.5Q142 83 142 80.5V68.5Q142 66 144.5 66Z" fill="#fff" stroke="none" stroke-width="1" />
<text transform="translate(157.09,79.10) scale(0.66,1)" font-size="14.5" text-anchor="middle" fill="#000" font-weight="normal" letter-spacing="3.3" stroke="#000" stroke-width="0.3" >SL2</text>
<path d="M495 322H516Q520 322 520 326V335Q520 339 516 339H495Q491 339 491 335V326Q491 322 495 322Z" fill="#000" stroke="none" stroke-width="1" />
<path d="M494.5 323H516.5Q519 323 519 325.5V335.5Q519 338 516.5 338H494.5Q492 338 492 335.5V325.5Q492 323 494.5 323Z" fill="#fff" stroke="none" stroke-width="1" />
<text transform="translate(505.59,335.10) scale(0.66,1)" font-size="14.5" text-anchor="middle" fill="#000" font-weight="normal" letter-spacing="3.3" stroke="#000" stroke-width="0.3" >KBD</text>
<rect x="382" y="387" width="59" height="18" fill="#000"/>
<rect x="384" y="389" width="55" height="14" fill="#fff"/>
<text transform="translate(413.02,401.00) scale(0.66,1)" font-size="14.5" text-anchor="middle" fill="#000" font-weight="normal" letter-spacing="4.6" stroke="#000" stroke-width="0.3" >BANK 0</text>
<rect x="382" y="467" width="59" height="18" fill="#000"/>
<rect x="384" y="469" width="55" height="14" fill="#fff"/>
<text transform="translate(413.02,481.00) scale(0.66,1)" font-size="14.5" text-anchor="middle" fill="#000" font-weight="normal" letter-spacing="4.6" stroke="#000" stroke-width="0.3" >BANK 1</text>
<rect x="133" y="440" width="51" height="18" fill="#000"/>
<rect x="135" y="442" width="47" height="14" fill="#fff"/>
<text transform="translate(159.95,453.50) scale(0.66,1)" font-size="14.5" text-anchor="middle" fill="#000" font-weight="normal" letter-spacing="4.4" stroke="#000" stroke-width="0.3" >CACHE</text>
<path d="M130 154H155Q159 154 159 158V169Q159 173 155 173H130Q126 173 126 169V158Q126 154 130 154Z" fill="#000" stroke="none" stroke-width="1" />
<path d="M131.5 157H154.5Q157 157 157 159.5V168.5Q157 171 154.5 171H131.5Q129 171 129 168.5V159.5Q129 157 131.5 157Z" fill="#fff" stroke="none" stroke-width="1" />
<text transform="translate(143.52,168.60) scale(0.66,1)" font-size="14.5" text-anchor="middle" fill="#000" font-weight="normal" letter-spacing="4.6" stroke="#000" stroke-width="0.3" >CPU</text>
<rect x="102" y="320" width="33" height="18" fill="#000"/>
<rect x="105" y="322" width="28" height="14" fill="#fff"/>
<text transform="translate(120.09,334.00) scale(0.66,1)" font-size="14.5" text-anchor="middle" fill="#000" font-weight="normal" letter-spacing="3.3" stroke="#000" stroke-width="0.3" >TAG</text>
<path d="M109.5 411.5H117.5Q121.5 411.5 121.5 415.5V480.5Q121.5 484.5 117.5 484.5H109.5Q105.5 484.5 105.5 480.5V415.5Q105.5 411.5 109.5 411.5Z" fill="#000" stroke="#000" stroke-width="1" />
<path d="M108.5 410.5H116.5Q120.5 410.5 120.5 414.5V479.5Q120.5 483.5 116.5 483.5H108.5Q104.5 483.5 104.5 479.5V414.5Q104.5 410.5 108.5 410.5Z" fill="#fff" stroke="#000" stroke-width="1" />
<text transform="translate(112.50,425.00) scale(0.66,1)" font-size="14.5" text-anchor="middle" fill="#000" font-weight="normal" letter-spacing="0" stroke="#000" stroke-width="0.3" >B</text>
<text transform="translate(112.50,441.00) scale(0.66,1)" font-size="14.5" text-anchor="middle" fill="#000" font-weight="normal" letter-spacing="0" stroke="#000" stroke-width="0.3" >A</text>
<text transform="translate(112.50,455.00) scale(0.66,1)" font-size="14.5" text-anchor="middle" fill="#000" font-weight="normal" letter-spacing="0" stroke="#000" stroke-width="0.3" >N</text>
<text transform="translate(112.50,468.00) scale(0.66,1)" font-size="14.5" text-anchor="middle" fill="#000" font-weight="normal" letter-spacing="0" stroke="#000" stroke-width="0.3" >K</text>
<text transform="translate(112.50,483.00) scale(0.66,1)" font-size="14.5" text-anchor="middle" fill="#000" font-weight="normal" letter-spacing="0" stroke="#000" stroke-width="0.3" >1</text>
<path d="M200.5 411.5H207.5Q211.5 411.5 211.5 415.5V481.5Q211.5 485.5 207.5 485.5H200.5Q196.5 485.5 196.5 481.5V415.5Q196.5 411.5 200.5 411.5Z" fill="#000" stroke="#000" stroke-width="1" />
<path d="M199.5 410.5H206.5Q210.5 410.5 210.5 414.5V480.5Q210.5 484.5 206.5 484.5H199.5Q195.5 484.5 195.5 480.5V414.5Q195.5 410.5 199.5 410.5Z" fill="#fff" stroke="#000" stroke-width="1" />
<text transform="translate(203.00,425.00) scale(0.66,1)" font-size="14.5" text-anchor="middle" fill="#000" font-weight="normal" letter-spacing="0" stroke="#000" stroke-width="0.3" >B</text>
<text transform="translate(203.00,441.00) scale(0.66,1)" font-size="14.5" text-anchor="middle" fill="#000" font-weight="normal" letter-spacing="0" stroke="#000" stroke-width="0.3" >A</text>
<text transform="translate(203.00,455.00) scale(0.66,1)" font-size="14.5" text-anchor="middle" fill="#000" font-weight="normal" letter-spacing="0" stroke="#000" stroke-width="0.3" >N</text>
<text transform="translate(203.00,468.00) scale(0.66,1)" font-size="14.5" text-anchor="middle" fill="#000" font-weight="normal" letter-spacing="0" stroke="#000" stroke-width="0.3" >K</text>
<text transform="translate(203.00,483.00) scale(0.66,1)" font-size="14.5" text-anchor="middle" fill="#000" font-weight="normal" letter-spacing="0" stroke="#000" stroke-width="0.3" >0</text>
<text transform="translate(460.50,58.00) scale(0.86,1)" font-size="12.3" text-anchor="start" fill="#000" font-weight="normal" letter-spacing="1.2" stroke="#000" stroke-width="0.25" >MH2358</text>
<text transform="translate(380.63,330.00) scale(0.85,1)" font-size="14" text-anchor="middle" fill="#fff" font-weight="bold" letter-spacing="0.3" stroke="#fff" stroke-width="0.3" >REAL TIME</text>
<text transform="translate(380.62,343.50) scale(0.8,1)" font-size="14" text-anchor="middle" fill="#fff" font-weight="bold" letter-spacing="0.3" stroke="#fff" stroke-width="0.3" >CLOCK</text>
</g>
</svg>
</body></html>
